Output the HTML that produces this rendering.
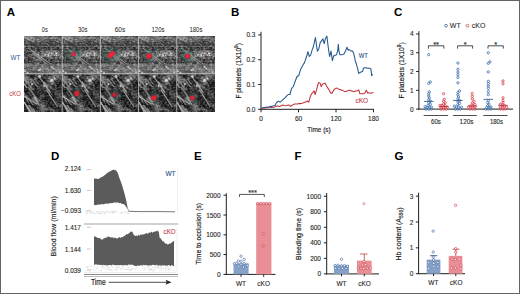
<!DOCTYPE html>
<html><head><meta charset="utf-8"><style>
html,body{margin:0;padding:0;background:#fff;}
body{width:520px;height:294px;overflow:hidden;}
svg{display:block;font-family:"Liberation Sans", sans-serif;}
</style></head><body>
<svg width="520" height="294" viewBox="0 0 520 294">
<defs><clipPath id="mclip"><rect x="24" y="36" width="191" height="76"/></clipPath>
<filter color-interpolation-filters="sRGB" id="noise0" x="0" y="0" width="100%" height="100%"><feTurbulence type="fractalNoise" baseFrequency="0.45 0.6" numOctaves="2" seed="3"/><feColorMatrix type="matrix" values="2.0 0 0 0 -0.6  2.0 0 0 0 -0.6  2.0 0 0 0 -0.6  0 0 0 0 1"/><feGaussianBlur stdDeviation="0.35"/></filter>
<filter color-interpolation-filters="sRGB" id="noise1" x="0" y="0" width="100%" height="100%"><feTurbulence type="fractalNoise" baseFrequency="0.45 0.6" numOctaves="2" seed="9"/><feColorMatrix type="matrix" values="2.0 0 0 0 -0.7  2.0 0 0 0 -0.7  2.0 0 0 0 -0.7  0 0 0 0 1"/><feGaussianBlur stdDeviation="0.35"/></filter>
<filter color-interpolation-filters="sRGB" id="lnoise0" x="0" y="0" width="100%" height="100%"><feTurbulence type="fractalNoise" baseFrequency="0.09 0.13" numOctaves="3" seed="5"/><feColorMatrix type="matrix" values="3.0 0 0 0 -1.15  3.0 0 0 0 -1.15  3.0 0 0 0 -1.15  0 0 0 0 1"/></filter><filter color-interpolation-filters="sRGB" id="lnoise1" x="0" y="0" width="100%" height="100%"><feTurbulence type="fractalNoise" baseFrequency="0.09 0.13" numOctaves="3" seed="12"/><feColorMatrix type="matrix" values="3.0 0 0 0 -1.3  3.0 0 0 0 -1.3  3.0 0 0 0 -1.3  0 0 0 0 1"/></filter><clipPath id="tclip"><rect x="0" y="0" width="38.2" height="38"/></clipPath><g id="tile0" clip-path="url(#tclip)"><rect x="0" y="0" width="38.2" height="38" fill="rgb(78,78,78)"/><rect x="0" y="0" width="38.2" height="38" filter="url(#lnoise0)" opacity="0.3"/><rect x="0" y="0" width="38.2" height="38" filter="url(#noise0)" opacity="0.35"/><g filter="url(#soft)"><rect x="0" y="29" width="38.2" height="9" fill="#b4b4b4" fill-opacity="0.28"/><line x1="0" y1="2.0" x2="38.2" y2="2.0" stroke="rgb(150,150,150)" stroke-width="1.0" stroke-opacity="0.55"/><line x1="0" y1="8.5" x2="38.2" y2="8.5" stroke="rgb(45,45,45)" stroke-width="1.5" stroke-opacity="0.55"/><line x1="0" y1="10.5" x2="38.2" y2="10.5" stroke="rgb(150,150,150)" stroke-width="0.7" stroke-opacity="0.55"/><line x1="0" y1="26.5" x2="38.2" y2="26.5" stroke="rgb(50,50,50)" stroke-width="1.2" stroke-opacity="0.55"/><line x1="0" y1="28.8" x2="38.2" y2="28.8" stroke="rgb(175,175,175)" stroke-width="0.8" stroke-opacity="0.55"/><line x1="0" y1="33.5" x2="38.2" y2="33.5" stroke="rgb(160,160,160)" stroke-width="0.7" stroke-opacity="0.55"/><line x1="0" y1="37.3" x2="38.2" y2="37.3" stroke="rgb(200,200,200)" stroke-width="1.0" stroke-opacity="0.55"/><line x1="4" y1="12" x2="27" y2="28.5" stroke="#d8d8d8" stroke-width="1.0" stroke-opacity="0.6"/><line x1="5" y1="13.6" x2="28" y2="30" stroke="#303030" stroke-width="1.0" stroke-opacity="0.5"/><line x1="21.7" y1="5.3" x2="36.6" y2="15.7" stroke="rgb(54,54,54)" stroke-width="1.0" stroke-opacity="0.5" stroke-linecap="round"/><line x1="23.4" y1="29.7" x2="30.6" y2="34.9" stroke="rgb(63,63,63)" stroke-width="1.0" stroke-opacity="0.5" stroke-linecap="round"/><line x1="27.8" y1="30.3" x2="35.8" y2="36.8" stroke="rgb(161,161,161)" stroke-width="1.3" stroke-opacity="0.5" stroke-linecap="round"/><line x1="-2.9" y1="1.2" x2="14.6" y2="11.2" stroke="rgb(43,43,43)" stroke-width="1.1" stroke-opacity="0.5" stroke-linecap="round"/><line x1="8.0" y1="-4.7" x2="25.1" y2="9.6" stroke="rgb(194,194,194)" stroke-width="1.0" stroke-opacity="0.5" stroke-linecap="round"/><line x1="13.6" y1="1.0" x2="21.7" y2="6.5" stroke="rgb(58,58,58)" stroke-width="1.5" stroke-opacity="0.5" stroke-linecap="round"/><line x1="-4.5" y1="-3.3" x2="9.9" y2="6.1" stroke="rgb(171,171,171)" stroke-width="1.5" stroke-opacity="0.5" stroke-linecap="round"/><line x1="10.0" y1="17.5" x2="21.8" y2="27.1" stroke="rgb(188,188,188)" stroke-width="1.5" stroke-opacity="0.5" stroke-linecap="round"/><line x1="-4.3" y1="36.5" x2="16.5" y2="36.3" stroke="rgb(53,53,53)" stroke-width="1.0" stroke-opacity="0.5" stroke-linecap="round"/><line x1="-3.2" y1="16.5" x2="7.4" y2="22.0" stroke="rgb(61,61,61)" stroke-width="1.1" stroke-opacity="0.5" stroke-linecap="round"/><line x1="16.4" y1="15.4" x2="32.5" y2="14.9" stroke="rgb(176,176,176)" stroke-width="0.9" stroke-opacity="0.5" stroke-linecap="round"/><circle cx="30.8" cy="19.4" r="0.7" fill="rgb(202,202,202)" fill-opacity="0.8"/><circle cx="24.3" cy="18.7" r="0.9" fill="rgb(201,201,201)" fill-opacity="0.8"/><circle cx="24.5" cy="19.7" r="0.9" fill="rgb(227,227,227)" fill-opacity="0.8"/><circle cx="27.0" cy="19.3" r="0.7" fill="rgb(239,239,239)" fill-opacity="0.8"/><circle cx="32.2" cy="17.6" r="1.1" fill="rgb(245,245,245)" fill-opacity="0.8"/><circle cx="32.6" cy="19.2" r="0.7" fill="rgb(237,237,237)" fill-opacity="0.8"/><circle cx="21.0" cy="19.0" r="1.1" fill="rgb(207,207,207)" fill-opacity="0.8"/><circle cx="24.3" cy="18.3" r="0.7" fill="rgb(201,201,201)" fill-opacity="0.8"/><circle cx="27.8" cy="17.6" r="1.0" fill="rgb(211,211,211)" fill-opacity="0.8"/><circle cx="29.2" cy="32.5" r="1.0" fill="rgb(212,212,212)" fill-opacity="0.7"/><circle cx="1.3" cy="35.6" r="0.8" fill="rgb(220,220,220)" fill-opacity="0.7"/><circle cx="3.6" cy="37.0" r="1.2" fill="rgb(220,220,220)" fill-opacity="0.7"/><circle cx="35.0" cy="33.6" r="0.9" fill="rgb(206,206,206)" fill-opacity="0.7"/><circle cx="14.9" cy="34.2" r="1.1" fill="rgb(240,240,240)" fill-opacity="0.7"/><circle cx="35.6" cy="36.2" r="0.9" fill="rgb(218,218,218)" fill-opacity="0.7"/><circle cx="16.5" cy="32.7" r="1.0" fill="rgb(202,202,202)" fill-opacity="0.7"/><circle cx="16.6" cy="34.1" r="0.7" fill="rgb(215,215,215)" fill-opacity="0.7"/><circle cx="0.4" cy="34.7" r="1.1" fill="rgb(227,227,227)" fill-opacity="0.7"/><circle cx="27.9" cy="30.9" r="0.9" fill="rgb(224,224,224)" fill-opacity="0.7"/></g></g><g id="tile1" clip-path="url(#tclip)"><rect x="0" y="0" width="38.2" height="38" fill="rgb(50,50,50)"/><rect x="0" y="0" width="38.2" height="38" filter="url(#lnoise1)" opacity="0.45"/><rect x="0" y="0" width="38.2" height="38" filter="url(#noise1)" opacity="0.3"/><g filter="url(#soft)"><line x1="22.6" y1="15.9" x2="33.2" y2="32.4" stroke="rgb(207,207,207)" stroke-width="1.3" stroke-opacity="0.6" stroke-linecap="round"/><line x1="0.6" y1="28.5" x2="5.7" y2="38.5" stroke="rgb(225,225,225)" stroke-width="1.4" stroke-opacity="0.6" stroke-linecap="round"/><line x1="8.9" y1="34.3" x2="12.9" y2="41.2" stroke="rgb(201,201,201)" stroke-width="1.1" stroke-opacity="0.6" stroke-linecap="round"/><line x1="3.4" y1="32.6" x2="9.2" y2="42.0" stroke="rgb(197,197,197)" stroke-width="1.5" stroke-opacity="0.6" stroke-linecap="round"/><line x1="10.9" y1="18.7" x2="18.8" y2="28.2" stroke="rgb(28,28,28)" stroke-width="1.0" stroke-opacity="0.6" stroke-linecap="round"/><line x1="9.7" y1="11.2" x2="13.1" y2="16.6" stroke="rgb(34,34,34)" stroke-width="1.0" stroke-opacity="0.6" stroke-linecap="round"/><line x1="10.5" y1="23.3" x2="14.5" y2="30.1" stroke="rgb(208,208,208)" stroke-width="1.7" stroke-opacity="0.6" stroke-linecap="round"/><line x1="19.9" y1="7.6" x2="23.4" y2="13.1" stroke="rgb(186,186,186)" stroke-width="1.1" stroke-opacity="0.6" stroke-linecap="round"/><line x1="-0.8" y1="3.1" x2="2.2" y2="8.9" stroke="rgb(179,179,179)" stroke-width="1.5" stroke-opacity="0.6" stroke-linecap="round"/><line x1="0.3" y1="12.9" x2="12.4" y2="18.9" stroke="rgb(34,34,34)" stroke-width="1.4" stroke-opacity="0.6" stroke-linecap="round"/><line x1="-2.0" y1="25.9" x2="10.2" y2="41.4" stroke="rgb(185,185,185)" stroke-width="1.2" stroke-opacity="0.6" stroke-linecap="round"/><line x1="3.4" y1="19.1" x2="11.1" y2="33.6" stroke="rgb(34,34,34)" stroke-width="1.6" stroke-opacity="0.6" stroke-linecap="round"/><line x1="2.8" y1="21.4" x2="8.9" y2="30.3" stroke="rgb(194,194,194)" stroke-width="1.7" stroke-opacity="0.6" stroke-linecap="round"/><line x1="-1.9" y1="7.5" x2="2.5" y2="13.0" stroke="rgb(214,214,214)" stroke-width="1.8" stroke-opacity="0.6" stroke-linecap="round"/><line x1="10.8" y1="5.2" x2="14.9" y2="10.3" stroke="rgb(170,170,170)" stroke-width="1.2" stroke-opacity="0.6" stroke-linecap="round"/><line x1="-3.2" y1="13.8" x2="4.5" y2="28.1" stroke="rgb(172,172,172)" stroke-width="1.2" stroke-opacity="0.6" stroke-linecap="round"/><line x1="15.6" y1="11.1" x2="23.9" y2="25.3" stroke="rgb(21,21,21)" stroke-width="1.9" stroke-opacity="0.6" stroke-linecap="round"/><line x1="0.5" y1="17.6" x2="9.5" y2="29.5" stroke="rgb(25,25,25)" stroke-width="1.6" stroke-opacity="0.6" stroke-linecap="round"/><line x1="21.6" y1="7.7" x2="29.9" y2="13.4" stroke="rgb(37,37,37)" stroke-width="1.7" stroke-opacity="0.6" stroke-linecap="round"/><line x1="9.0" y1="1.2" x2="26.4" y2="9.5" stroke="rgb(34,34,34)" stroke-width="1.2" stroke-opacity="0.6" stroke-linecap="round"/><line x1="4.6" y1="13.6" x2="12.6" y2="24.9" stroke="rgb(178,178,178)" stroke-width="1.8" stroke-opacity="0.6" stroke-linecap="round"/><line x1="-0.4" y1="22.0" x2="12.9" y2="30.1" stroke="rgb(223,223,223)" stroke-width="1.2" stroke-opacity="0.6" stroke-linecap="round"/><line x1="5.2" y1="31.7" x2="11.4" y2="41.3" stroke="rgb(183,183,183)" stroke-width="1.9" stroke-opacity="0.6" stroke-linecap="round"/><line x1="9.2" y1="6.8" x2="13.7" y2="12.8" stroke="rgb(171,171,171)" stroke-width="1.3" stroke-opacity="0.6" stroke-linecap="round"/><line x1="15.9" y1="3.8" x2="26.3" y2="18.5" stroke="rgb(211,211,211)" stroke-width="1.3" stroke-opacity="0.6" stroke-linecap="round"/><line x1="-0.6" y1="2.3" x2="8.0" y2="15.3" stroke="rgb(174,174,174)" stroke-width="1.7" stroke-opacity="0.6" stroke-linecap="round"/><circle cx="15.7" cy="2.6" r="1.4" fill="#e6e6e6" fill-opacity="0.8"/><circle cx="27.8" cy="6.3" r="1.6" fill="#e6e6e6" fill-opacity="0.8"/><circle cx="30.5" cy="4.5" r="1.0" fill="#e6e6e6" fill-opacity="0.8"/><circle cx="8" cy="10" r="1.0" fill="#e6e6e6" fill-opacity="0.8"/><circle cx="20" cy="12" r="0.9" fill="#e6e6e6" fill-opacity="0.8"/></g></g><filter color-interpolation-filters="sRGB" id="hblur" x="-50%" y="-50%" width="200%" height="200%"><feGaussianBlur stdDeviation="1.6"/></filter><filter color-interpolation-filters="sRGB" id="bblur" x="-50%" y="-50%" width="200%" height="200%"><feGaussianBlur stdDeviation="0.5"/></filter><filter color-interpolation-filters="sRGB" id="soft"><feGaussianBlur stdDeviation="0.55"/></filter>
<filter color-interpolation-filters="sRGB" id="blur1"><feGaussianBlur stdDeviation="0.8"/></filter>
</defs>
<rect x="0" y="0" width="520" height="294" fill="#fff"/>
<g clip-path="url(#mclip)">
<use href="#tile0" x="24.0" y="36"/>
<use href="#tile0" x="62.2" y="36"/>
<use href="#tile0" x="100.4" y="36"/>
<use href="#tile0" x="138.6" y="36"/>
<use href="#tile0" x="176.8" y="36"/>
<use href="#tile1" x="24.0" y="74"/>
<use href="#tile1" x="62.2" y="74"/>
<use href="#tile1" x="100.4" y="74"/>
<use href="#tile1" x="138.6" y="74"/>
<use href="#tile1" x="176.8" y="74"/>
<ellipse cx="73.5" cy="54.2" rx="8" ry="5.5" fill="#3a7868" fill-opacity="0.38" filter="url(#hblur)"/><ellipse cx="73.5" cy="54.2" rx="2.8" ry="2.4" transform="rotate(-30 73.5 54.2)" fill="#8a1c30" fill-opacity="0.8" filter="url(#bblur)"/><ellipse cx="73.5" cy="54.2" rx="2.4" ry="2.0" transform="rotate(-30 73.5 54.2)" fill="#d0304a" filter="url(#bblur)"/>
<ellipse cx="111.3" cy="54.5" rx="9" ry="6.5" fill="#3a7868" fill-opacity="0.38" filter="url(#hblur)"/><ellipse cx="111.3" cy="54.5" rx="4.6" ry="2.8" transform="rotate(-40 111.3 54.5)" fill="#8a1c30" fill-opacity="0.8" filter="url(#bblur)"/><ellipse cx="111.3" cy="54.5" rx="4.2" ry="2.4" transform="rotate(-40 111.3 54.5)" fill="#e42a3c" filter="url(#bblur)"/>
<ellipse cx="149" cy="56" rx="7" ry="6" fill="#3a7868" fill-opacity="0.38" filter="url(#hblur)"/><ellipse cx="149" cy="56" rx="3.3" ry="2.9" transform="rotate(-20 149 56)" fill="#8a1c30" fill-opacity="0.8" filter="url(#bblur)"/><ellipse cx="149" cy="56" rx="2.9" ry="2.5" transform="rotate(-20 149 56)" fill="#e0283a" filter="url(#bblur)"/>
<ellipse cx="187.6" cy="56" rx="6.5" ry="5.5" fill="#3a7868" fill-opacity="0.38" filter="url(#hblur)"/><ellipse cx="187.6" cy="56" rx="2.9" ry="2.6" transform="rotate(0 187.6 56)" fill="#8a1c30" fill-opacity="0.8" filter="url(#bblur)"/><ellipse cx="187.6" cy="56" rx="2.5" ry="2.2" transform="rotate(0 187.6 56)" fill="#d82a3a" filter="url(#bblur)"/>
<ellipse cx="76.8" cy="93.6" rx="4" ry="6" fill="#3a7868" fill-opacity="0.38" filter="url(#hblur)"/><ellipse cx="76.8" cy="93.6" rx="2.8" ry="3.3" transform="rotate(0 76.8 93.6)" fill="#8a1c30" fill-opacity="0.8" filter="url(#bblur)"/><ellipse cx="76.8" cy="93.6" rx="2.4" ry="2.9" transform="rotate(0 76.8 93.6)" fill="#d02838" filter="url(#bblur)"/>
<ellipse cx="114.3" cy="94.8" rx="5" ry="5" fill="#3a7868" fill-opacity="0.38" filter="url(#hblur)"/><ellipse cx="114.3" cy="94.8" rx="2.8" ry="2.4" transform="rotate(-20 114.3 94.8)" fill="#8a1c30" fill-opacity="0.8" filter="url(#bblur)"/><ellipse cx="114.3" cy="94.8" rx="2.4" ry="2.0" transform="rotate(-20 114.3 94.8)" fill="#c02232" filter="url(#bblur)"/>
<ellipse cx="153.8" cy="97.8" rx="5" ry="5" fill="#3a7868" fill-opacity="0.38" filter="url(#hblur)"/><ellipse cx="153.8" cy="97.8" rx="3.1" ry="2.7" transform="rotate(-20 153.8 97.8)" fill="#8a1c30" fill-opacity="0.8" filter="url(#bblur)"/><ellipse cx="153.8" cy="97.8" rx="2.7" ry="2.3" transform="rotate(-20 153.8 97.8)" fill="#e42232" filter="url(#bblur)"/>
<ellipse cx="192.3" cy="97.8" rx="5" ry="5" fill="#3a7868" fill-opacity="0.38" filter="url(#hblur)"/><ellipse cx="192.3" cy="97.8" rx="2.8" ry="2.6" transform="rotate(-20 192.3 97.8)" fill="#8a1c30" fill-opacity="0.8" filter="url(#bblur)"/><ellipse cx="192.3" cy="97.8" rx="2.4" ry="2.2" transform="rotate(-20 192.3 97.8)" fill="#d42a38" filter="url(#bblur)"/>
<line x1="62.2" y1="36" x2="62.2" y2="112" stroke="#cfcfcf" stroke-width="0.6"/>
<line x1="100.4" y1="36" x2="100.4" y2="112" stroke="#cfcfcf" stroke-width="0.6"/>
<line x1="138.6" y1="36" x2="138.6" y2="112" stroke="#cfcfcf" stroke-width="0.6"/>
<line x1="176.8" y1="36" x2="176.8" y2="112" stroke="#cfcfcf" stroke-width="0.6"/>
<line x1="24" y1="74" x2="215" y2="74" stroke="#cfcfcf" stroke-width="0.6"/>
</g>
<text x="6.8" y="16.2" font-size="11.5" text-anchor="start" fill="#000" font-weight="bold" >A</text>
<text x="231" y="16" font-size="11.5" text-anchor="start" fill="#000" font-weight="bold" >B</text>
<text x="394" y="16" font-size="11.5" text-anchor="start" fill="#000" font-weight="bold" >C</text>
<text x="51" y="160" font-size="11.5" text-anchor="start" fill="#000" font-weight="bold" >D</text>
<text x="194" y="160" font-size="11.5" text-anchor="start" fill="#000" font-weight="bold" >E</text>
<text x="294.5" y="160" font-size="11.5" text-anchor="start" fill="#000" font-weight="bold" >F</text>
<text x="394.5" y="160" font-size="11.5" text-anchor="start" fill="#000" font-weight="bold" >G</text>
<text x="44.8" y="31.9" font-size="7.3" text-anchor="middle" fill="#222" font-weight="normal" textLength="6.2" lengthAdjust="spacingAndGlyphs">0s</text>
<text x="82.7" y="31.9" font-size="7.3" text-anchor="middle" fill="#222" font-weight="normal" textLength="9.6" lengthAdjust="spacingAndGlyphs">30s</text>
<text x="120" y="31.9" font-size="7.3" text-anchor="middle" fill="#222" font-weight="normal" textLength="10.5" lengthAdjust="spacingAndGlyphs">60s</text>
<text x="158" y="31.9" font-size="7.3" text-anchor="middle" fill="#222" font-weight="normal" textLength="13.1" lengthAdjust="spacingAndGlyphs">120s</text>
<text x="195.9" y="31.9" font-size="7.3" text-anchor="middle" fill="#222" font-weight="normal" textLength="13.0" lengthAdjust="spacingAndGlyphs">180s</text>
<text x="15.5" y="60.4" font-size="7" text-anchor="middle" fill="#2f5588" font-weight="normal" textLength="9.8" lengthAdjust="spacingAndGlyphs">WT</text>
<text x="15.1" y="96.1" font-size="7" text-anchor="middle" fill="#c23a3a" font-weight="normal" textLength="11.8" lengthAdjust="spacingAndGlyphs">cKO</text>
<line x1="261" y1="31.8" x2="261" y2="109.75" stroke="#1e1e1e" stroke-width="1.0" />
<line x1="260.55" y1="109.3" x2="374" y2="109.3" stroke="#1e1e1e" stroke-width="1.0" />
<line x1="258.2" y1="109.3" x2="261" y2="109.3" stroke="#1e1e1e" stroke-width="1.0" />
<text x="255.5" y="109.3" font-size="6.5" text-anchor="end" dominant-baseline="central" fill="#2a2a2a" stroke="#2a2a2a" stroke-width="0.12" >0.0</text>
<line x1="258.2" y1="84.5" x2="261" y2="84.5" stroke="#1e1e1e" stroke-width="1.0" />
<text x="255.5" y="84.5" font-size="6.5" text-anchor="end" dominant-baseline="central" fill="#2a2a2a" stroke="#2a2a2a" stroke-width="0.12" >0.1</text>
<line x1="258.2" y1="59.699999999999996" x2="261" y2="59.699999999999996" stroke="#1e1e1e" stroke-width="1.0" />
<text x="255.5" y="59.699999999999996" font-size="6.5" text-anchor="end" dominant-baseline="central" fill="#2a2a2a" stroke="#2a2a2a" stroke-width="0.12" >0.2</text>
<line x1="258.2" y1="34.89999999999999" x2="261" y2="34.89999999999999" stroke="#1e1e1e" stroke-width="1.0" />
<text x="255.5" y="34.89999999999999" font-size="6.5" text-anchor="end" dominant-baseline="central" fill="#2a2a2a" stroke="#2a2a2a" stroke-width="0.12" >0.3</text>
<line x1="261.0" y1="109.3" x2="261.0" y2="112.3" stroke="#1e1e1e" stroke-width="1.0" />
<text x="261.0" y="118.5" font-size="6.5" text-anchor="middle" dominant-baseline="central" fill="#2a2a2a" stroke="#2a2a2a" stroke-width="0.12" >0</text>
<line x1="298.5" y1="109.3" x2="298.5" y2="112.3" stroke="#1e1e1e" stroke-width="1.0" />
<text x="298.5" y="118.5" font-size="6.5" text-anchor="middle" dominant-baseline="central" fill="#2a2a2a" stroke="#2a2a2a" stroke-width="0.12" >60</text>
<line x1="336.0" y1="109.3" x2="336.0" y2="112.3" stroke="#1e1e1e" stroke-width="1.0" />
<text x="336.0" y="118.5" font-size="6.5" text-anchor="middle" dominant-baseline="central" fill="#2a2a2a" stroke="#2a2a2a" stroke-width="0.12" >120</text>
<line x1="373.5" y1="109.3" x2="373.5" y2="112.3" stroke="#1e1e1e" stroke-width="1.0" />
<text x="373.5" y="118.5" font-size="6.5" text-anchor="middle" dominant-baseline="central" fill="#2a2a2a" stroke="#2a2a2a" stroke-width="0.12" >180</text>
<text x="319" y="129.2" font-size="8" text-anchor="middle" dominant-baseline="central" fill="#2a2a2a" stroke="#2a2a2a" stroke-width="0.2" textLength="23.3" lengthAdjust="spacingAndGlyphs">Time (s)</text>
<text x="0" y="0" transform="translate(238.2,70.8) rotate(-90)" font-size="7.4" text-anchor="middle" dominant-baseline="central" fill="#222" stroke="#222" stroke-width="0.18" textLength="55.6" lengthAdjust="spacingAndGlyphs">F platelets (1X10<tspan font-size="5.2" dy="-2.6">9</tspan><tspan dy="2.6">)</tspan></text>
<polyline points="261.50,108.10 262.51,108.10 263.53,108.09 264.54,108.04 265.56,108.05 266.57,107.79 267.59,107.84 268.60,107.40 269.63,106.94 270.67,107.21 271.70,107.50 272.73,107.19 273.77,107.30 274.80,106.90 276.15,106.14 277.50,106.00 278.80,106.18 280.10,106.40 281.45,105.55 282.80,105.10 284.10,105.44 285.40,105.70 286.75,105.46 288.10,105.10 289.40,105.36 290.70,106.40 292.05,105.27 293.40,104.60 294.70,104.07 296.00,103.90 297.35,103.98 298.70,103.40 300.05,103.61 301.40,103.40 303.00,103.00 304.05,102.38 305.10,102.30 306.20,101.84 307.30,100.90 308.70,102.30 310.10,97.30 311.50,93.80 313.00,92.40 314.10,90.90 315.10,94.50 316.50,90.20 317.90,84.50 318.90,82.40 320.10,83.10 321.20,86.70 322.20,84.50 323.60,83.80 325.00,83.10 326.50,86.00 327.90,88.10 329.30,90.20 330.70,93.10 332.20,93.10 333.60,90.20 335.00,88.80 336.05,88.16 337.10,88.10 338.20,88.89 339.30,89.50 340.35,89.55 341.40,90.20 342.45,90.15 343.50,90.90 344.60,91.55 345.70,91.60 346.75,91.02 347.80,90.90 348.85,90.32 349.90,90.20 351.00,90.94 352.10,90.90 353.15,91.45 354.20,91.40 355.25,90.98 356.30,90.90 357.55,90.82 358.80,90.00 359.90,93.80 361.30,93.83 362.70,93.80 363.80,93.59 364.90,93.10 366.30,90.20 367.70,93.10 368.80,92.86 369.90,93.10 370.95,93.30 372.00,92.80 373.40,92.40" fill="none" stroke="#c0323c" stroke-width="1.05" stroke-linejoin="round"/>
<polyline points="261.50,108.10 262.70,107.66 263.90,107.67 265.10,107.40 266.27,107.13 267.43,107.15 268.60,106.90 269.80,106.83 271.00,106.22 272.20,106.40 273.50,105.66 274.80,105.70 276.60,102.50 278.40,101.10 280.10,102.10 281.90,100.70 283.70,98.90 285.00,97.87 286.30,96.30 288.10,94.50 289.90,94.50 291.60,88.30 293.40,86.50 295.20,81.20 296.90,76.80 298.80,75.50 300.40,69.80 301.45,67.71 302.50,66.00 303.50,64.09 304.50,62.60 305.90,58.50 306.90,55.50 307.90,51.70 309.30,56.50 310.60,55.10 312.00,50.40 313.30,47.00 314.35,42.23 315.40,37.50 316.40,44.57 317.40,51.10 318.80,49.00 320.10,42.90 321.50,40.90 322.90,38.80 324.20,43.60 325.60,38.20 326.90,36.10 328.30,47.70 329.60,56.50 331.00,51.10 332.40,60.60 333.70,55.80 334.75,55.43 335.80,55.10 336.50,54.70 337.70,51.00 338.30,44.20 339.00,51.00 339.80,54.70 341.70,54.70 342.85,54.46 344.00,54.00 345.50,51.00 347.00,47.20 348.20,50.20 349.20,49.50 350.70,51.00 352.20,50.70 353.30,52.50 354.20,55.50 355.20,60.70 356.30,63.70 357.50,68.20 358.70,73.40 359.70,72.70 361.20,71.90 362.70,71.20 363.40,68.20 364.90,67.70 366.05,67.67 367.20,68.20 368.30,68.31 369.40,68.20 370.90,68.90 371.70,75.70 372.70,74.20" fill="none" stroke="#24578f" stroke-width="1.05" stroke-linejoin="round"/>
<text x="363.3" y="55.5" font-size="7.2" text-anchor="middle" dominant-baseline="central" fill="#2d5386" stroke="#2d5386" stroke-width="0.12" textLength="9.2" lengthAdjust="spacingAndGlyphs">WT</text>
<text x="361.8" y="100.7" font-size="7" text-anchor="middle" dominant-baseline="central" fill="#c23c4a" stroke="#c23c4a" stroke-width="0.12" textLength="12.6" lengthAdjust="spacingAndGlyphs">cKO</text>
<line x1="418.9" y1="31.2" x2="418.9" y2="109.55" stroke="#1e1e1e" stroke-width="1.0" />
<line x1="418.45" y1="109.1" x2="513" y2="109.1" stroke="#1e1e1e" stroke-width="1.0" />
<line x1="416.09999999999997" y1="109.1" x2="418.9" y2="109.1" stroke="#1e1e1e" stroke-width="1.0" />
<text x="413.5" y="109.1" font-size="6.5" text-anchor="end" dominant-baseline="central" fill="#2a2a2a" stroke="#2a2a2a" stroke-width="0.12" >0</text>
<line x1="416.09999999999997" y1="90.32" x2="418.9" y2="90.32" stroke="#1e1e1e" stroke-width="1.0" />
<text x="413.5" y="90.32" font-size="6.5" text-anchor="end" dominant-baseline="central" fill="#2a2a2a" stroke="#2a2a2a" stroke-width="0.12" >1</text>
<line x1="416.09999999999997" y1="71.53999999999999" x2="418.9" y2="71.53999999999999" stroke="#1e1e1e" stroke-width="1.0" />
<text x="413.5" y="71.53999999999999" font-size="6.5" text-anchor="end" dominant-baseline="central" fill="#2a2a2a" stroke="#2a2a2a" stroke-width="0.12" >2</text>
<line x1="416.09999999999997" y1="52.75999999999999" x2="418.9" y2="52.75999999999999" stroke="#1e1e1e" stroke-width="1.0" />
<text x="413.5" y="52.75999999999999" font-size="6.5" text-anchor="end" dominant-baseline="central" fill="#2a2a2a" stroke="#2a2a2a" stroke-width="0.12" >3</text>
<line x1="416.09999999999997" y1="33.97999999999999" x2="418.9" y2="33.97999999999999" stroke="#1e1e1e" stroke-width="1.0" />
<text x="413.5" y="33.97999999999999" font-size="6.5" text-anchor="end" dominant-baseline="central" fill="#2a2a2a" stroke="#2a2a2a" stroke-width="0.12" >4</text>
<text x="0" y="0" transform="translate(401.2,70.4) rotate(-90)" font-size="7.6" text-anchor="middle" dominant-baseline="central" fill="#222" stroke="#222" stroke-width="0.18" textLength="56.4" lengthAdjust="spacingAndGlyphs">F platelets (1X10<tspan font-size="5.4" dy="-2.7">9</tspan><tspan dy="2.7">)</tspan></text>
<circle cx="446" cy="25.7" r="1.4" fill="none" stroke="#2d5386" stroke-width="0.7"/>
<text x="449.8" y="25.5" font-size="7" text-anchor="start" dominant-baseline="central" fill="#333" stroke="#333" stroke-width="0.12" >WT</text>
<circle cx="467.5" cy="25.7" r="1.4" fill="none" stroke="#c23c4a" stroke-width="0.7"/>
<text x="471.8" y="25.5" font-size="7" text-anchor="start" dominant-baseline="central" fill="#333" stroke="#333" stroke-width="0.12" >cKO</text>
<line x1="423.7" y1="115.5" x2="448.1" y2="115.5" stroke="#1e1e1e" stroke-width="0.8" />
<text x="436" y="121.5" font-size="6.8" text-anchor="middle" dominant-baseline="central" fill="#2a2a2a" stroke="#2a2a2a" stroke-width="0.12" textLength="9.9" lengthAdjust="spacingAndGlyphs">60s</text>
<polyline points="428.4,48.6 428.4,45.8 443.90000000000003,45.8 443.90000000000003,48.6" fill="none" stroke="#1e1e1e" stroke-width="0.8"/>
<line x1="452.9" y1="115.5" x2="476.8" y2="115.5" stroke="#1e1e1e" stroke-width="0.8" />
<text x="466.5" y="121.5" font-size="6.8" text-anchor="middle" dominant-baseline="central" fill="#2a2a2a" stroke="#2a2a2a" stroke-width="0.12" textLength="13.8" lengthAdjust="spacingAndGlyphs">120s</text>
<polyline points="457.59999999999997,48.6 457.59999999999997,45.8 472.6,45.8 472.6,48.6" fill="none" stroke="#1e1e1e" stroke-width="0.8"/>
<line x1="483.3" y1="115.5" x2="507.5" y2="115.5" stroke="#1e1e1e" stroke-width="0.8" />
<text x="496.4" y="121.5" font-size="6.8" text-anchor="middle" dominant-baseline="central" fill="#2a2a2a" stroke="#2a2a2a" stroke-width="0.12" textLength="13" lengthAdjust="spacingAndGlyphs">180s</text>
<polyline points="488.0,48.6 488.0,45.8 503.3,45.8 503.3,48.6" fill="none" stroke="#1e1e1e" stroke-width="0.8"/>
<text x="436.1" y="44.4" font-size="7.5" text-anchor="middle" dominant-baseline="central" fill="#2a2a2a" stroke="#2a2a2a" stroke-width="0.12" >**</text>
<text x="465.1" y="44.4" font-size="7.5" text-anchor="middle" dominant-baseline="central" fill="#2a2a2a" stroke="#2a2a2a" stroke-width="0.12" >*</text>
<text x="495.7" y="44.4" font-size="7.5" text-anchor="middle" dominant-baseline="central" fill="#2a2a2a" stroke="#2a2a2a" stroke-width="0.12" >*</text>
<circle cx="428.70" cy="109.10" r="1.15" fill="#fff" fill-opacity="0.5" stroke="#2f64a6" stroke-width="0.75"/><circle cx="431.30" cy="109.10" r="1.15" fill="#fff" fill-opacity="0.5" stroke="#2f64a6" stroke-width="0.75"/><circle cx="426.10" cy="109.10" r="1.15" fill="#fff" fill-opacity="0.5" stroke="#2f64a6" stroke-width="0.75"/><circle cx="429.30" cy="107.22" r="1.15" fill="#fff" fill-opacity="0.5" stroke="#2f64a6" stroke-width="0.75"/><circle cx="427.10" cy="107.35" r="1.15" fill="#fff" fill-opacity="0.5" stroke="#2f64a6" stroke-width="0.75"/><circle cx="431.30" cy="107.10" r="1.15" fill="#fff" fill-opacity="0.5" stroke="#2f64a6" stroke-width="0.75"/><circle cx="425.10" cy="106.66" r="1.15" fill="#fff" fill-opacity="0.5" stroke="#2f64a6" stroke-width="0.75"/><circle cx="428.10" cy="105.53" r="1.15" fill="#fff" fill-opacity="0.5" stroke="#2f64a6" stroke-width="0.75"/><circle cx="430.30" cy="104.22" r="1.15" fill="#fff" fill-opacity="0.5" stroke="#2f64a6" stroke-width="0.75"/><circle cx="428.70" cy="102.71" r="1.15" fill="#fff" fill-opacity="0.5" stroke="#2f64a6" stroke-width="0.75"/><circle cx="430.30" cy="101.21" r="1.15" fill="#fff" fill-opacity="0.5" stroke="#2f64a6" stroke-width="0.75"/><circle cx="428.70" cy="99.71" r="1.15" fill="#fff" fill-opacity="0.5" stroke="#2f64a6" stroke-width="0.75"/><circle cx="429.30" cy="97.83" r="1.15" fill="#fff" fill-opacity="0.5" stroke="#2f64a6" stroke-width="0.75"/><circle cx="428.70" cy="95.95" r="1.15" fill="#fff" fill-opacity="0.5" stroke="#2f64a6" stroke-width="0.75"/><circle cx="428.70" cy="93.70" r="1.15" fill="#fff" fill-opacity="0.5" stroke="#2f64a6" stroke-width="0.75"/><circle cx="429.30" cy="91.82" r="1.15" fill="#fff" fill-opacity="0.5" stroke="#2f64a6" stroke-width="0.75"/><circle cx="428.70" cy="83.37" r="1.15" fill="#fff" fill-opacity="0.5" stroke="#2f64a6" stroke-width="0.75"/><circle cx="430.30" cy="81.87" r="1.15" fill="#fff" fill-opacity="0.5" stroke="#2f64a6" stroke-width="0.75"/><circle cx="428.70" cy="54.64" r="1.15" fill="#fff" fill-opacity="0.5" stroke="#2f64a6" stroke-width="0.75"/>
<circle cx="443.60" cy="109.10" r="1.15" fill="#fff" fill-opacity="0.5" stroke="#d5303e" stroke-width="0.75"/><circle cx="446.20" cy="109.10" r="1.15" fill="#fff" fill-opacity="0.5" stroke="#d5303e" stroke-width="0.75"/><circle cx="441.00" cy="109.10" r="1.15" fill="#fff" fill-opacity="0.5" stroke="#d5303e" stroke-width="0.75"/><circle cx="443.60" cy="107.10" r="1.15" fill="#fff" fill-opacity="0.5" stroke="#d5303e" stroke-width="0.75"/><circle cx="447.20" cy="107.22" r="1.15" fill="#fff" fill-opacity="0.5" stroke="#d5303e" stroke-width="0.75"/><circle cx="441.00" cy="107.16" r="1.15" fill="#fff" fill-opacity="0.5" stroke="#d5303e" stroke-width="0.75"/><circle cx="445.20" cy="105.91" r="1.15" fill="#fff" fill-opacity="0.5" stroke="#d5303e" stroke-width="0.75"/><circle cx="442.00" cy="105.47" r="1.15" fill="#fff" fill-opacity="0.5" stroke="#d5303e" stroke-width="0.75"/><circle cx="440.00" cy="105.34" r="1.15" fill="#fff" fill-opacity="0.5" stroke="#d5303e" stroke-width="0.75"/><circle cx="443.60" cy="104.03" r="1.15" fill="#fff" fill-opacity="0.5" stroke="#d5303e" stroke-width="0.75"/><circle cx="445.20" cy="102.71" r="1.15" fill="#fff" fill-opacity="0.5" stroke="#d5303e" stroke-width="0.75"/><circle cx="443.60" cy="101.21" r="1.15" fill="#fff" fill-opacity="0.5" stroke="#d5303e" stroke-width="0.75"/><circle cx="444.20" cy="99.33" r="1.15" fill="#fff" fill-opacity="0.5" stroke="#d5303e" stroke-width="0.75"/><circle cx="443.60" cy="93.70" r="1.15" fill="#fff" fill-opacity="0.5" stroke="#d5303e" stroke-width="0.75"/>
<line x1="423.9" y1="101.4002" x2="433.5" y2="101.4002" stroke="#1f4f88" stroke-width="0.8" />
<line x1="438.8" y1="106.4708" x2="448.40000000000003" y2="106.4708" stroke="#b02a36" stroke-width="0.8" />
<circle cx="457.90" cy="109.10" r="1.15" fill="#fff" fill-opacity="0.5" stroke="#2f64a6" stroke-width="0.75"/><circle cx="460.50" cy="109.10" r="1.15" fill="#fff" fill-opacity="0.5" stroke="#2f64a6" stroke-width="0.75"/><circle cx="455.30" cy="109.10" r="1.15" fill="#fff" fill-opacity="0.5" stroke="#2f64a6" stroke-width="0.75"/><circle cx="458.50" cy="107.22" r="1.15" fill="#fff" fill-opacity="0.5" stroke="#2f64a6" stroke-width="0.75"/><circle cx="456.30" cy="107.16" r="1.15" fill="#fff" fill-opacity="0.5" stroke="#2f64a6" stroke-width="0.75"/><circle cx="461.50" cy="107.22" r="1.15" fill="#fff" fill-opacity="0.5" stroke="#2f64a6" stroke-width="0.75"/><circle cx="454.30" cy="106.10" r="1.15" fill="#fff" fill-opacity="0.5" stroke="#2f64a6" stroke-width="0.75"/><circle cx="457.90" cy="104.78" r="1.15" fill="#fff" fill-opacity="0.5" stroke="#2f64a6" stroke-width="0.75"/><circle cx="459.50" cy="103.47" r="1.15" fill="#fff" fill-opacity="0.5" stroke="#2f64a6" stroke-width="0.75"/><circle cx="457.90" cy="101.96" r="1.15" fill="#fff" fill-opacity="0.5" stroke="#2f64a6" stroke-width="0.75"/><circle cx="459.50" cy="100.46" r="1.15" fill="#fff" fill-opacity="0.5" stroke="#2f64a6" stroke-width="0.75"/><circle cx="457.90" cy="98.77" r="1.15" fill="#fff" fill-opacity="0.5" stroke="#2f64a6" stroke-width="0.75"/><circle cx="458.50" cy="96.89" r="1.15" fill="#fff" fill-opacity="0.5" stroke="#2f64a6" stroke-width="0.75"/><circle cx="457.90" cy="94.83" r="1.15" fill="#fff" fill-opacity="0.5" stroke="#2f64a6" stroke-width="0.75"/><circle cx="457.90" cy="92.57" r="1.15" fill="#fff" fill-opacity="0.5" stroke="#2f64a6" stroke-width="0.75"/><circle cx="459.50" cy="90.88" r="1.15" fill="#fff" fill-opacity="0.5" stroke="#2f64a6" stroke-width="0.75"/><circle cx="457.90" cy="82.81" r="1.15" fill="#fff" fill-opacity="0.5" stroke="#2f64a6" stroke-width="0.75"/><circle cx="457.90" cy="77.55" r="1.15" fill="#fff" fill-opacity="0.5" stroke="#2f64a6" stroke-width="0.75"/><circle cx="457.90" cy="74.73" r="1.15" fill="#fff" fill-opacity="0.5" stroke="#2f64a6" stroke-width="0.75"/><circle cx="457.90" cy="72.10" r="1.15" fill="#fff" fill-opacity="0.5" stroke="#2f64a6" stroke-width="0.75"/><circle cx="457.90" cy="69.29" r="1.15" fill="#fff" fill-opacity="0.5" stroke="#2f64a6" stroke-width="0.75"/><circle cx="457.90" cy="63.09" r="1.15" fill="#fff" fill-opacity="0.5" stroke="#2f64a6" stroke-width="0.75"/>
<circle cx="472.30" cy="109.10" r="1.15" fill="#fff" fill-opacity="0.5" stroke="#d5303e" stroke-width="0.75"/><circle cx="474.90" cy="109.10" r="1.15" fill="#fff" fill-opacity="0.5" stroke="#d5303e" stroke-width="0.75"/><circle cx="469.70" cy="109.10" r="1.15" fill="#fff" fill-opacity="0.5" stroke="#d5303e" stroke-width="0.75"/><circle cx="472.30" cy="107.10" r="1.15" fill="#fff" fill-opacity="0.5" stroke="#d5303e" stroke-width="0.75"/><circle cx="474.90" cy="107.04" r="1.15" fill="#fff" fill-opacity="0.5" stroke="#d5303e" stroke-width="0.75"/><circle cx="468.70" cy="107.29" r="1.15" fill="#fff" fill-opacity="0.5" stroke="#d5303e" stroke-width="0.75"/><circle cx="470.70" cy="105.85" r="1.15" fill="#fff" fill-opacity="0.5" stroke="#d5303e" stroke-width="0.75"/><circle cx="472.90" cy="105.22" r="1.15" fill="#fff" fill-opacity="0.5" stroke="#d5303e" stroke-width="0.75"/><circle cx="474.90" cy="104.41" r="1.15" fill="#fff" fill-opacity="0.5" stroke="#d5303e" stroke-width="0.75"/><circle cx="472.30" cy="102.90" r="1.15" fill="#fff" fill-opacity="0.5" stroke="#d5303e" stroke-width="0.75"/><circle cx="473.90" cy="101.21" r="1.15" fill="#fff" fill-opacity="0.5" stroke="#d5303e" stroke-width="0.75"/><circle cx="472.30" cy="98.77" r="1.15" fill="#fff" fill-opacity="0.5" stroke="#d5303e" stroke-width="0.75"/><circle cx="472.30" cy="96.33" r="1.15" fill="#fff" fill-opacity="0.5" stroke="#d5303e" stroke-width="0.75"/><circle cx="472.30" cy="93.51" r="1.15" fill="#fff" fill-opacity="0.5" stroke="#d5303e" stroke-width="0.75"/>
<line x1="453.09999999999997" y1="100.46119999999999" x2="462.7" y2="100.46119999999999" stroke="#1f4f88" stroke-width="0.8" />
<line x1="467.5" y1="105.9074" x2="477.1" y2="105.9074" stroke="#b02a36" stroke-width="0.8" />
<circle cx="488.30" cy="109.10" r="1.15" fill="#fff" fill-opacity="0.5" stroke="#2f64a6" stroke-width="0.75"/><circle cx="490.90" cy="109.10" r="1.15" fill="#fff" fill-opacity="0.5" stroke="#2f64a6" stroke-width="0.75"/><circle cx="485.70" cy="109.10" r="1.15" fill="#fff" fill-opacity="0.5" stroke="#2f64a6" stroke-width="0.75"/><circle cx="488.90" cy="107.22" r="1.15" fill="#fff" fill-opacity="0.5" stroke="#2f64a6" stroke-width="0.75"/><circle cx="486.70" cy="107.47" r="1.15" fill="#fff" fill-opacity="0.5" stroke="#2f64a6" stroke-width="0.75"/><circle cx="490.90" cy="107.03" r="1.15" fill="#fff" fill-opacity="0.5" stroke="#2f64a6" stroke-width="0.75"/><circle cx="487.70" cy="105.72" r="1.15" fill="#fff" fill-opacity="0.5" stroke="#2f64a6" stroke-width="0.75"/><circle cx="488.90" cy="104.22" r="1.15" fill="#fff" fill-opacity="0.5" stroke="#2f64a6" stroke-width="0.75"/><circle cx="487.70" cy="102.53" r="1.15" fill="#fff" fill-opacity="0.5" stroke="#2f64a6" stroke-width="0.75"/><circle cx="488.30" cy="100.65" r="1.15" fill="#fff" fill-opacity="0.5" stroke="#2f64a6" stroke-width="0.75"/><circle cx="488.30" cy="94.64" r="1.15" fill="#fff" fill-opacity="0.5" stroke="#2f64a6" stroke-width="0.75"/><circle cx="488.30" cy="91.63" r="1.15" fill="#fff" fill-opacity="0.5" stroke="#2f64a6" stroke-width="0.75"/><circle cx="488.30" cy="88.44" r="1.15" fill="#fff" fill-opacity="0.5" stroke="#2f64a6" stroke-width="0.75"/><circle cx="488.30" cy="86.00" r="1.15" fill="#fff" fill-opacity="0.5" stroke="#2f64a6" stroke-width="0.75"/><circle cx="488.30" cy="83.56" r="1.15" fill="#fff" fill-opacity="0.5" stroke="#2f64a6" stroke-width="0.75"/><circle cx="488.30" cy="81.31" r="1.15" fill="#fff" fill-opacity="0.5" stroke="#2f64a6" stroke-width="0.75"/><circle cx="488.30" cy="71.92" r="1.15" fill="#fff" fill-opacity="0.5" stroke="#2f64a6" stroke-width="0.75"/><circle cx="488.30" cy="63.28" r="1.15" fill="#fff" fill-opacity="0.5" stroke="#2f64a6" stroke-width="0.75"/><circle cx="489.90" cy="61.77" r="1.15" fill="#fff" fill-opacity="0.5" stroke="#2f64a6" stroke-width="0.75"/><circle cx="488.30" cy="52.76" r="1.15" fill="#fff" fill-opacity="0.5" stroke="#2f64a6" stroke-width="0.75"/>
<circle cx="503.00" cy="109.10" r="1.15" fill="#fff" fill-opacity="0.5" stroke="#d5303e" stroke-width="0.75"/><circle cx="505.60" cy="109.10" r="1.15" fill="#fff" fill-opacity="0.5" stroke="#d5303e" stroke-width="0.75"/><circle cx="500.40" cy="109.10" r="1.15" fill="#fff" fill-opacity="0.5" stroke="#d5303e" stroke-width="0.75"/><circle cx="503.00" cy="107.10" r="1.15" fill="#fff" fill-opacity="0.5" stroke="#d5303e" stroke-width="0.75"/><circle cx="506.60" cy="107.35" r="1.15" fill="#fff" fill-opacity="0.5" stroke="#d5303e" stroke-width="0.75"/><circle cx="500.40" cy="107.10" r="1.15" fill="#fff" fill-opacity="0.5" stroke="#d5303e" stroke-width="0.75"/><circle cx="504.60" cy="105.66" r="1.15" fill="#fff" fill-opacity="0.5" stroke="#d5303e" stroke-width="0.75"/><circle cx="502.40" cy="105.03" r="1.15" fill="#fff" fill-opacity="0.5" stroke="#d5303e" stroke-width="0.75"/><circle cx="500.40" cy="104.22" r="1.15" fill="#fff" fill-opacity="0.5" stroke="#d5303e" stroke-width="0.75"/><circle cx="503.00" cy="102.71" r="1.15" fill="#fff" fill-opacity="0.5" stroke="#d5303e" stroke-width="0.75"/><circle cx="503.00" cy="100.65" r="1.15" fill="#fff" fill-opacity="0.5" stroke="#d5303e" stroke-width="0.75"/><circle cx="503.00" cy="97.83" r="1.15" fill="#fff" fill-opacity="0.5" stroke="#d5303e" stroke-width="0.75"/><circle cx="503.00" cy="83.75" r="1.15" fill="#fff" fill-opacity="0.5" stroke="#d5303e" stroke-width="0.75"/><circle cx="503.00" cy="80.93" r="1.15" fill="#fff" fill-opacity="0.5" stroke="#d5303e" stroke-width="0.75"/>
<line x1="483.5" y1="99.33439999999999" x2="493.1" y2="99.33439999999999" stroke="#1f4f88" stroke-width="0.8" />
<line x1="498.2" y1="105.344" x2="507.8" y2="105.344" stroke="#b02a36" stroke-width="0.8" />
<line x1="177.5" y1="169" x2="177.5" y2="214" stroke="#ebebeb" stroke-width="0.7" />
<line x1="177" y1="227.5" x2="177" y2="273" stroke="#ebebeb" stroke-width="0.7" />
<line x1="84" y1="224" x2="178" y2="224" stroke="#8a8a8a" stroke-width="0.8" />
<line x1="84" y1="274.5" x2="178" y2="274.5" stroke="#7a7a7a" stroke-width="0.9" />
<line x1="84" y1="276.5" x2="178" y2="276.5" stroke="#a0a0a0" stroke-width="0.7" />
<polygon points="94.00,178.30 95.00,178.70 96.00,178.60 97.05,178.97 98.10,178.80 99.05,178.64 100.00,178.00 101.10,177.20 102.20,176.90 103.13,176.32 104.07,175.59 105.00,175.00 105.87,174.28 106.73,173.31 107.60,172.80 108.65,171.97 109.70,171.50 110.60,170.92 111.50,170.40 113.10,169.80 114.05,169.78 115.00,170.10 116.50,170.80 118.00,173.50 119.20,177.60 120.25,180.27 121.30,183.00 122.15,185.46 123.00,188.50 124.50,193.50 125.80,198.80 126.80,203.50 127.70,208.00 129.00,210.80 129.00,211.30 128.00,209.82 127.00,208.00 126.00,206.87 125.00,205.20 124.00,204.35 123.00,204.00 122.15,204.10 121.30,203.40 120.37,202.96 119.43,203.14 118.50,202.80 117.57,202.34 116.63,202.74 115.70,202.40 114.78,202.25 113.85,202.82 112.92,202.95 112.00,202.90 111.10,203.24 110.20,203.10 109.30,203.57 108.40,203.40 107.43,203.92 106.45,203.34 105.47,203.79 104.50,203.90 103.62,204.37 102.75,204.29 101.88,204.16 101.00,204.30 100.12,204.27 99.25,204.91 98.38,204.34 97.50,204.80 96.62,205.11 95.75,205.27 94.88,204.83 94.00,205.20" fill="#5b5b5b"/>
<polyline points="128,211.3 140,211.6 160,211.6 175,211.8" fill="none" stroke="#666" stroke-width="0.9"/>
<rect x="104.5" y="212.3" width="1.5" height="0.8" fill="rgb(234,234,234)"/>
<rect x="110.3" y="211.3" width="1.5" height="0.8" fill="rgb(226,226,226)"/>
<rect x="93.0" y="212.0" width="0.9" height="0.9" fill="rgb(214,214,214)"/>
<rect x="114.8" y="210.9" width="2.2" height="0.8" fill="rgb(222,222,222)"/>
<rect x="111.5" y="211.2" width="2.0" height="0.5" fill="rgb(210,210,210)"/>
<rect x="86.5" y="213.1" width="0.8" height="0.7" fill="rgb(229,229,229)"/>
<rect x="103.9" y="213.0" width="1.1" height="0.6" fill="rgb(226,226,226)"/>
<rect x="85.2" y="211.0" width="1.2" height="1.0" fill="rgb(230,230,230)"/>
<rect x="127.8" y="213.0" width="1.2" height="0.9" fill="rgb(232,232,232)"/>
<rect x="107.1" y="210.9" width="1.9" height="0.7" fill="rgb(228,228,228)"/>
<rect x="121.4" y="211.8" width="2.0" height="0.5" fill="rgb(210,210,210)"/>
<rect x="94.0" y="213.2" width="1.3" height="0.9" fill="rgb(225,225,225)"/>
<rect x="103.1" y="212.3" width="1.9" height="0.6" fill="rgb(216,216,216)"/>
<rect x="88.7" y="211.7" width="1.9" height="0.6" fill="rgb(223,223,223)"/>
<rect x="95.6" y="211.1" width="1.5" height="0.7" fill="rgb(211,211,211)"/>
<rect x="114.3" y="211.3" width="1.1" height="0.9" fill="rgb(226,226,226)"/>
<rect x="90.6" y="212.5" width="1.4" height="1.0" fill="rgb(213,213,213)"/>
<rect x="85.0" y="213.0" width="1.6" height="1.0" fill="rgb(235,235,235)"/>
<rect x="85.8" y="211.3" width="1.6" height="0.8" fill="rgb(237,237,237)"/>
<rect x="86.8" y="211.2" width="1.2" height="0.9" fill="rgb(224,224,224)"/>
<rect x="99.1" y="211.6" width="0.9" height="0.6" fill="rgb(212,212,212)"/>
<rect x="112.4" y="210.8" width="1.3" height="0.7" fill="rgb(221,221,221)"/>
<rect x="126.2" y="212.1" width="1.0" height="0.7" fill="rgb(228,228,228)"/>
<rect x="112.0" y="211.6" width="1.9" height="0.6" fill="rgb(217,217,217)"/>
<rect x="93.2" y="212.7" width="1.1" height="1.0" fill="rgb(227,227,227)"/>
<rect x="122.9" y="212.4" width="0.9" height="0.6" fill="rgb(223,223,223)"/>
<rect x="107.0" y="211.5" width="1.8" height="0.6" fill="rgb(233,233,233)"/>
<rect x="120.4" y="212.4" width="1.5" height="1.0" fill="rgb(219,219,219)"/>
<rect x="127.0" y="211.1" width="1.6" height="0.9" fill="rgb(225,225,225)"/>
<rect x="111.4" y="211.5" width="1.8" height="0.5" fill="rgb(216,216,216)"/>
<rect x="102.7" y="211.4" width="1.0" height="0.7" fill="rgb(211,211,211)"/>
<rect x="109.6" y="211.1" width="1.0" height="0.7" fill="rgb(221,221,221)"/>
<rect x="99.2" y="212.7" width="1.6" height="0.6" fill="rgb(226,226,226)"/>
<rect x="86.5" y="210.8" width="1.8" height="1.0" fill="rgb(221,221,221)"/>
<rect x="85.9" y="212.5" width="0.9" height="0.7" fill="rgb(225,225,225)"/>
<rect x="90.9" y="211.0" width="1.6" height="0.9" fill="rgb(224,224,224)"/>
<rect x="123.7" y="212.7" width="1.0" height="1.0" fill="rgb(232,232,232)"/>
<rect x="99.7" y="211.0" width="2.1" height="0.9" fill="rgb(225,225,225)"/>
<rect x="102.9" y="212.9" width="1.5" height="0.5" fill="rgb(237,237,237)"/>
<rect x="113.5" y="211.8" width="1.7" height="0.5" fill="rgb(210,210,210)"/>
<rect x="112.5" y="213.4" width="1.4" height="0.7" fill="rgb(238,238,238)"/>
<rect x="125.2" y="212.6" width="1.4" height="0.9" fill="rgb(224,224,224)"/>
<rect x="88.6" y="212.8" width="1.2" height="0.5" fill="rgb(210,210,210)"/>
<rect x="86.0" y="213.3" width="1.5" height="0.8" fill="rgb(213,213,213)"/>
<rect x="124.6" y="211.5" width="1.3" height="0.6" fill="rgb(210,210,210)"/>
<rect x="111.3" y="212.1" width="2.1" height="0.8" fill="rgb(234,234,234)"/>
<rect x="104.0" y="213.1" width="1.4" height="0.6" fill="rgb(220,220,220)"/>
<rect x="112.3" y="212.9" width="2.1" height="0.9" fill="rgb(234,234,234)"/>
<rect x="101.5" y="212.3" width="1.1" height="0.6" fill="rgb(220,220,220)"/>
<rect x="100.1" y="213.1" width="1.8" height="1.0" fill="rgb(211,211,211)"/>
<rect x="96.9" y="211.2" width="1.5" height="1.0" fill="rgb(224,224,224)"/>
<rect x="120.7" y="211.8" width="1.5" height="0.7" fill="rgb(226,226,226)"/>
<rect x="121.1" y="213.4" width="1.2" height="0.9" fill="rgb(224,224,224)"/>
<rect x="97.0" y="212.4" width="1.8" height="0.8" fill="rgb(231,231,231)"/>
<rect x="98.3" y="212.9" width="1.7" height="0.7" fill="rgb(210,210,210)"/>
<rect x="93.2" y="212.8" width="1.1" height="0.6" fill="rgb(218,218,218)"/>
<rect x="87.0" y="212.4" width="1.0" height="0.8" fill="rgb(224,224,224)"/>
<rect x="112.5" y="211.8" width="1.8" height="0.6" fill="rgb(212,212,212)"/>
<rect x="105.4" y="211.3" width="1.9" height="0.8" fill="rgb(210,210,210)"/>
<rect x="86.6" y="211.4" width="1.3" height="0.8" fill="rgb(234,234,234)"/>
<rect x="107.4" y="212.4" width="1.0" height="0.9" fill="rgb(234,234,234)"/>
<rect x="115.1" y="211.4" width="2.1" height="0.9" fill="rgb(223,223,223)"/>
<rect x="90.6" y="212.0" width="2.0" height="0.5" fill="rgb(230,230,230)"/>
<rect x="108.7" y="212.5" width="1.9" height="1.0" fill="rgb(226,226,226)"/>
<rect x="104.9" y="212.5" width="0.9" height="0.9" fill="rgb(216,216,216)"/>
<rect x="119.3" y="213.2" width="1.1" height="0.9" fill="rgb(213,213,213)"/>
<rect x="127.2" y="213.3" width="2.2" height="1.0" fill="rgb(227,227,227)"/>
<rect x="96.3" y="212.7" width="1.3" height="0.5" fill="rgb(210,210,210)"/>
<rect x="104.0" y="212.2" width="1.2" height="1.0" fill="rgb(234,234,234)"/>
<rect x="94.4" y="213.1" width="1.9" height="0.6" fill="rgb(223,223,223)"/>
<line x1="86.8" y1="169.6" x2="91" y2="169.6" stroke="#cccccc" stroke-width="1.0" />
<line x1="86.8" y1="190.5" x2="91" y2="190.5" stroke="#cccccc" stroke-width="1.0" />
<line x1="86.8" y1="210.7" x2="91" y2="210.7" stroke="#cccccc" stroke-width="1.0" />
<text x="81" y="168.8" font-size="6.5" text-anchor="end" dominant-baseline="central" fill="#2a2a2a" stroke="#2a2a2a" stroke-width="0.12" >2.124</text>
<text x="81" y="190.2" font-size="6.5" text-anchor="end" dominant-baseline="central" fill="#2a2a2a" stroke="#2a2a2a" stroke-width="0.12" >1.630</text>
<text x="81" y="210.7" font-size="6.5" text-anchor="end" dominant-baseline="central" fill="#2a2a2a" stroke="#2a2a2a" stroke-width="0.12" textLength="20" lengthAdjust="spacingAndGlyphs">−0.093</text>
<text x="175.5" y="173.2" font-size="6.5" text-anchor="end" dominant-baseline="central" fill="#2d5386" stroke="#2d5386" stroke-width="0.12" >WT</text>
<polygon points="94.00,237.00 94.75,236.15 95.50,236.50 96.35,237.34 97.20,237.50 97.97,238.01 98.73,238.00 99.50,238.30 100.33,238.16 101.17,239.56 102.00,239.40 102.75,239.50 103.50,238.50 104.35,238.17 105.20,237.80 106.10,237.61 107.00,237.40 107.73,236.79 108.47,236.24 109.20,237.00 109.97,236.97 110.73,237.55 111.50,237.60 112.33,236.89 113.17,238.26 114.00,237.80 115.00,237.52 116.00,238.20 117.20,238.60 118.10,237.72 119.00,237.80 119.77,236.71 120.53,238.16 121.30,237.00 122.03,237.16 122.77,237.14 123.50,236.20 124.40,236.01 125.30,235.40 126.03,234.19 126.77,234.36 127.50,234.30 128.40,233.65 129.30,233.00 130.50,231.80 131.70,231.40 132.45,231.91 133.20,233.80 134.00,235.41 134.80,235.16 135.60,236.20 136.40,235.31 137.20,236.24 138.00,235.40 138.80,234.52 139.60,235.77 140.40,234.72 141.20,234.60 141.97,234.66 142.73,234.25 143.50,234.50 144.33,234.24 145.17,233.47 146.00,233.80 146.83,232.70 147.67,233.93 148.50,233.00 149.27,232.26 150.03,232.97 150.80,232.20 151.60,231.48 152.40,232.64 153.20,232.31 154.00,231.40 154.80,231.66 155.60,231.47 156.40,230.95 157.20,230.60 158.00,231.41 158.80,231.40 159.60,237.80 160.40,237.92 161.20,239.36 162.00,240.20 162.80,241.59 163.60,241.26 164.40,242.60 165.45,243.81 166.50,243.50 167.45,244.55 168.40,244.20 169.20,243.77 170.00,243.42 170.80,243.40 171.65,242.61 172.50,242.00 173.25,241.29 174.00,241.00 174.00,265.80 173.20,266.29 172.40,265.25 171.60,265.05 170.80,266.16 170.00,265.50 169.17,265.14 168.33,265.08 167.50,265.73 166.67,265.38 165.83,266.05 165.00,265.60 164.17,265.23 163.33,266.05 162.50,265.23 161.67,265.52 160.83,265.87 160.00,265.30 159.17,265.47 158.33,265.71 157.50,265.40 156.67,264.56 155.83,265.51 155.00,265.00 154.17,265.14 153.33,264.84 152.50,264.73 151.67,265.55 150.83,265.27 150.00,265.20 149.17,265.69 148.33,265.46 147.50,265.65 146.67,265.15 145.83,265.27 145.00,265.00 144.17,265.18 143.33,264.81 142.50,265.70 141.67,264.97 140.83,265.59 140.00,265.30 139.20,265.99 138.40,265.76 137.60,265.29 136.80,266.25 136.00,266.00 135.00,265.95 134.00,265.50 133.00,264.89 132.00,264.49 131.00,264.80 130.00,264.90 129.00,264.37 128.00,265.00 127.20,265.55 126.40,265.09 125.60,265.14 124.80,265.05 124.00,265.20 123.14,265.41 122.29,265.73 121.43,265.01 120.57,265.11 119.71,265.37 118.86,265.04 118.00,265.30 117.14,265.37 116.29,265.27 115.43,265.09 114.57,265.34 113.71,265.12 112.86,264.55 112.00,265.00 111.14,265.62 110.29,264.88 109.43,265.00 108.57,265.00 107.71,265.66 106.86,265.71 106.00,265.20 105.14,265.19 104.29,265.02 103.43,264.63 102.57,265.56 101.71,264.66 100.86,265.08 100.00,265.00 99.14,264.79 98.29,264.74 97.43,264.74 96.57,264.52 95.71,264.30 94.86,264.87 94.00,264.80" fill="#5b5b5b"/>
<rect x="114.8" y="269.4" width="1.6" height="1.0" fill="rgb(219,219,219)"/>
<rect x="165.2" y="268.0" width="1.9" height="1.0" fill="rgb(236,236,236)"/>
<rect x="128.8" y="270.2" width="2.0" height="0.7" fill="rgb(217,217,217)"/>
<rect x="134.7" y="269.6" width="1.8" height="0.8" fill="rgb(232,232,232)"/>
<rect x="160.1" y="268.2" width="1.9" height="1.0" fill="rgb(224,224,224)"/>
<rect x="162.4" y="268.5" width="2.2" height="1.0" fill="rgb(224,224,224)"/>
<rect x="131.7" y="268.3" width="1.5" height="0.6" fill="rgb(221,221,221)"/>
<rect x="85.4" y="267.3" width="2.4" height="0.8" fill="rgb(232,232,232)"/>
<rect x="120.7" y="269.5" width="1.0" height="0.5" fill="rgb(233,233,233)"/>
<rect x="99.8" y="270.1" width="1.5" height="1.0" fill="rgb(229,229,229)"/>
<rect x="167.2" y="266.7" width="1.6" height="0.7" fill="rgb(230,230,230)"/>
<rect x="165.2" y="270.2" width="1.6" height="0.6" fill="rgb(230,230,230)"/>
<rect x="122.3" y="265.5" width="1.0" height="0.9" fill="rgb(223,223,223)"/>
<rect x="87.0" y="266.3" width="0.8" height="0.6" fill="rgb(222,222,222)"/>
<rect x="149.4" y="266.6" width="1.0" height="0.9" fill="rgb(230,230,230)"/>
<rect x="95.9" y="268.0" width="1.9" height="0.9" fill="rgb(223,223,223)"/>
<rect x="163.2" y="265.4" width="1.5" height="0.8" fill="rgb(235,235,235)"/>
<rect x="99.2" y="266.4" width="1.7" height="0.6" fill="rgb(235,235,235)"/>
<rect x="104.2" y="268.1" width="2.2" height="0.6" fill="rgb(233,233,233)"/>
<rect x="150.9" y="269.5" width="1.3" height="0.7" fill="rgb(220,220,220)"/>
<rect x="167.1" y="266.4" width="2.2" height="0.6" fill="rgb(221,221,221)"/>
<rect x="106.3" y="269.1" width="1.4" height="0.7" fill="rgb(223,223,223)"/>
<rect x="168.8" y="268.1" width="1.0" height="0.7" fill="rgb(237,237,237)"/>
<rect x="146.0" y="265.4" width="1.7" height="0.7" fill="rgb(221,221,221)"/>
<rect x="158.1" y="267.2" width="1.6" height="0.9" fill="rgb(237,237,237)"/>
<rect x="129.7" y="268.9" width="2.1" height="0.7" fill="rgb(221,221,221)"/>
<rect x="87.2" y="269.3" width="1.6" height="0.8" fill="rgb(234,234,234)"/>
<rect x="98.0" y="266.3" width="1.1" height="0.6" fill="rgb(221,221,221)"/>
<rect x="110.2" y="268.8" width="0.9" height="1.0" fill="rgb(233,233,233)"/>
<rect x="126.1" y="269.3" width="1.4" height="0.7" fill="rgb(225,225,225)"/>
<rect x="116.6" y="266.4" width="0.8" height="0.9" fill="rgb(226,226,226)"/>
<rect x="160.1" y="266.2" width="1.4" height="0.7" fill="rgb(229,229,229)"/>
<rect x="167.0" y="268.4" width="1.6" height="0.5" fill="rgb(218,218,218)"/>
<rect x="164.5" y="269.5" width="2.2" height="1.0" fill="rgb(237,237,237)"/>
<rect x="168.6" y="268.3" width="1.6" height="1.0" fill="rgb(221,221,221)"/>
<rect x="156.6" y="266.6" width="2.0" height="0.9" fill="rgb(218,218,218)"/>
<rect x="157.5" y="267.4" width="2.2" height="0.8" fill="rgb(225,225,225)"/>
<rect x="153.3" y="269.3" width="1.1" height="0.6" fill="rgb(227,227,227)"/>
<rect x="156.0" y="266.9" width="0.8" height="0.7" fill="rgb(218,218,218)"/>
<rect x="141.8" y="268.5" width="1.2" height="1.0" fill="rgb(222,222,222)"/>
<rect x="111.6" y="266.4" width="1.7" height="0.8" fill="rgb(227,227,227)"/>
<rect x="119.7" y="270.5" width="1.1" height="0.6" fill="rgb(235,235,235)"/>
<rect x="120.2" y="268.3" width="1.8" height="0.9" fill="rgb(218,218,218)"/>
<rect x="107.8" y="267.4" width="2.0" height="0.8" fill="rgb(216,216,216)"/>
<rect x="86.0" y="266.6" width="2.2" height="0.8" fill="rgb(223,223,223)"/>
<rect x="130.2" y="270.3" width="2.2" height="0.5" fill="rgb(233,233,233)"/>
<rect x="124.5" y="268.7" width="1.8" height="0.9" fill="rgb(232,232,232)"/>
<rect x="89.0" y="270.1" width="1.4" height="1.0" fill="rgb(220,220,220)"/>
<rect x="161.2" y="268.1" width="0.9" height="1.0" fill="rgb(234,234,234)"/>
<rect x="122.4" y="268.0" width="1.3" height="0.8" fill="rgb(234,234,234)"/>
<rect x="128.0" y="266.7" width="1.9" height="0.9" fill="rgb(224,224,224)"/>
<rect x="87.4" y="269.3" width="0.9" height="0.6" fill="rgb(233,233,233)"/>
<rect x="152.2" y="267.3" width="2.0" height="0.5" fill="rgb(225,225,225)"/>
<rect x="173.0" y="270.2" width="2.1" height="0.6" fill="rgb(217,217,217)"/>
<rect x="149.0" y="266.6" width="1.2" height="0.8" fill="rgb(239,239,239)"/>
<rect x="168.4" y="269.1" width="1.0" height="1.0" fill="rgb(229,229,229)"/>
<rect x="106.8" y="269.0" width="1.8" height="0.7" fill="rgb(216,216,216)"/>
<rect x="103.1" y="265.6" width="1.0" height="0.7" fill="rgb(231,231,231)"/>
<rect x="97.4" y="267.5" width="1.2" height="0.8" fill="rgb(234,234,234)"/>
<rect x="122.3" y="269.3" width="2.1" height="0.6" fill="rgb(231,231,231)"/>
<rect x="110.8" y="266.0" width="1.0" height="0.9" fill="rgb(230,230,230)"/>
<rect x="154.8" y="268.5" width="1.2" height="0.8" fill="rgb(226,226,226)"/>
<rect x="149.5" y="268.9" width="1.8" height="0.9" fill="rgb(221,221,221)"/>
<rect x="101.9" y="266.6" width="2.3" height="0.9" fill="rgb(235,235,235)"/>
<rect x="88.5" y="265.6" width="1.2" height="0.5" fill="rgb(223,223,223)"/>
<rect x="88.4" y="266.5" width="0.9" height="0.5" fill="rgb(223,223,223)"/>
<rect x="145.2" y="268.2" width="2.4" height="0.7" fill="rgb(235,235,235)"/>
<rect x="116.5" y="267.1" width="2.0" height="0.9" fill="rgb(230,230,230)"/>
<rect x="91.6" y="265.9" width="2.1" height="0.9" fill="rgb(240,240,240)"/>
<rect x="153.4" y="267.6" width="1.2" height="0.9" fill="rgb(238,238,238)"/>
<rect x="117.8" y="268.7" width="1.3" height="0.8" fill="rgb(234,234,234)"/>
<rect x="151.4" y="270.1" width="1.8" height="0.8" fill="rgb(228,228,228)"/>
<rect x="126.1" y="267.0" width="0.9" height="0.8" fill="rgb(232,232,232)"/>
<rect x="128.2" y="268.9" width="2.1" height="0.5" fill="rgb(224,224,224)"/>
<rect x="112.6" y="270.0" width="0.9" height="0.7" fill="rgb(234,234,234)"/>
<rect x="149.5" y="268.9" width="2.2" height="0.6" fill="rgb(224,224,224)"/>
<rect x="143.5" y="267.0" width="1.3" height="0.7" fill="rgb(218,218,218)"/>
<rect x="137.9" y="270.0" width="2.3" height="0.7" fill="rgb(236,236,236)"/>
<rect x="156.5" y="266.9" width="1.2" height="1.0" fill="rgb(225,225,225)"/>
<rect x="150.0" y="268.0" width="1.4" height="0.7" fill="rgb(217,217,217)"/>
<rect x="117.3" y="267.4" width="2.1" height="0.9" fill="rgb(227,227,227)"/>
<rect x="117.8" y="267.3" width="2.1" height="0.8" fill="rgb(219,219,219)"/>
<rect x="100.7" y="269.2" width="2.1" height="0.6" fill="rgb(224,224,224)"/>
<rect x="90.1" y="266.1" width="2.3" height="0.8" fill="rgb(224,224,224)"/>
<rect x="156.6" y="265.6" width="1.3" height="0.8" fill="rgb(232,232,232)"/>
<rect x="114.8" y="266.7" width="2.2" height="0.5" fill="rgb(218,218,218)"/>
<rect x="141.4" y="266.0" width="2.1" height="0.7" fill="rgb(238,238,238)"/>
<rect x="148.4" y="267.8" width="1.3" height="0.7" fill="rgb(231,231,231)"/>
<rect x="116.2" y="269.5" width="1.9" height="0.7" fill="rgb(225,225,225)"/>
<rect x="132.8" y="269.0" width="1.8" height="0.5" fill="rgb(237,237,237)"/>
<rect x="152.4" y="270.4" width="2.2" height="0.9" fill="rgb(226,226,226)"/>
<rect x="159.2" y="269.9" width="1.8" height="0.8" fill="rgb(232,232,232)"/>
<rect x="148.2" y="269.5" width="2.3" height="1.0" fill="rgb(228,228,228)"/>
<rect x="106.9" y="266.1" width="1.4" height="0.6" fill="rgb(235,235,235)"/>
<rect x="103.2" y="267.5" width="1.2" height="0.9" fill="rgb(224,224,224)"/>
<rect x="127.0" y="269.1" width="1.8" height="0.9" fill="rgb(224,224,224)"/>
<rect x="101.0" y="265.6" width="0.8" height="0.7" fill="rgb(229,229,229)"/>
<rect x="156.2" y="266.9" width="1.1" height="0.6" fill="rgb(221,221,221)"/>
<rect x="106.0" y="269.0" width="1.6" height="0.7" fill="rgb(234,234,234)"/>
<rect x="164.6" y="267.4" width="2.3" height="0.8" fill="rgb(239,239,239)"/>
<rect x="168.8" y="268.2" width="1.6" height="0.7" fill="rgb(223,223,223)"/>
<rect x="170.1" y="268.7" width="2.3" height="0.7" fill="rgb(239,239,239)"/>
<rect x="104.7" y="265.6" width="2.1" height="0.7" fill="rgb(219,219,219)"/>
<rect x="132.0" y="268.0" width="2.1" height="0.5" fill="rgb(223,223,223)"/>
<rect x="167.3" y="269.9" width="2.2" height="0.7" fill="rgb(230,230,230)"/>
<rect x="106.9" y="267.5" width="1.5" height="0.9" fill="rgb(220,220,220)"/>
<rect x="97.9" y="270.0" width="1.6" height="0.8" fill="rgb(240,240,240)"/>
<rect x="173.4" y="266.7" width="0.9" height="0.8" fill="rgb(232,232,232)"/>
<rect x="100.9" y="266.4" width="2.1" height="0.5" fill="rgb(219,219,219)"/>
<rect x="109.0" y="269.0" width="2.2" height="0.8" fill="rgb(218,218,218)"/>
<rect x="92.4" y="269.2" width="2.2" height="0.7" fill="rgb(232,232,232)"/>
<rect x="155.2" y="267.5" width="0.9" height="0.9" fill="rgb(236,236,236)"/>
<rect x="103.5" y="268.1" width="1.6" height="1.0" fill="rgb(231,231,231)"/>
<rect x="170.8" y="266.9" width="0.9" height="0.7" fill="rgb(227,227,227)"/>
<rect x="126.6" y="269.0" width="0.9" height="0.6" fill="rgb(226,226,226)"/>
<rect x="144.4" y="268.8" width="2.3" height="0.9" fill="rgb(238,238,238)"/>
<rect x="143.2" y="265.4" width="1.9" height="0.7" fill="rgb(227,227,227)"/>
<rect x="111.1" y="265.9" width="0.8" height="1.0" fill="rgb(239,239,239)"/>
<rect x="156.2" y="266.4" width="1.0" height="0.8" fill="rgb(234,234,234)"/>
<rect x="168.4" y="269.2" width="2.0" height="0.8" fill="rgb(225,225,225)"/>
<rect x="92.7" y="266.3" width="2.0" height="0.7" fill="rgb(227,227,227)"/>
<rect x="169.1" y="268.2" width="1.8" height="0.7" fill="rgb(238,238,238)"/>
<rect x="119.0" y="265.8" width="1.0" height="0.8" fill="rgb(234,234,234)"/>
<rect x="148.0" y="266.2" width="0.9" height="0.7" fill="rgb(227,227,227)"/>
<rect x="147.7" y="265.8" width="1.1" height="0.6" fill="rgb(216,216,216)"/>
<rect x="121.2" y="265.7" width="2.3" height="0.6" fill="rgb(228,228,228)"/>
<rect x="103.3" y="266.1" width="1.4" height="0.7" fill="rgb(237,237,237)"/>
<rect x="121.7" y="265.4" width="1.8" height="0.7" fill="rgb(227,227,227)"/>
<rect x="155.2" y="266.6" width="1.6" height="0.6" fill="rgb(234,234,234)"/>
<rect x="101.8" y="266.9" width="1.0" height="0.7" fill="rgb(229,229,229)"/>
<rect x="130.3" y="269.4" width="1.8" height="0.6" fill="rgb(218,218,218)"/>
<rect x="153.2" y="270.0" width="1.2" height="0.8" fill="rgb(232,232,232)"/>
<rect x="130.7" y="268.3" width="2.4" height="0.8" fill="rgb(221,221,221)"/>
<rect x="148.7" y="269.6" width="1.7" height="0.5" fill="rgb(221,221,221)"/>
<rect x="143.7" y="269.3" width="1.2" height="0.8" fill="rgb(219,219,219)"/>
<rect x="147.0" y="267.0" width="1.2" height="0.9" fill="rgb(226,226,226)"/>
<rect x="125.3" y="269.1" width="2.2" height="0.8" fill="rgb(222,222,222)"/>
<rect x="134.9" y="268.2" width="1.1" height="0.9" fill="rgb(223,223,223)"/>
<rect x="164.8" y="267.0" width="1.0" height="0.9" fill="rgb(219,219,219)"/>
<rect x="110.7" y="270.0" width="2.0" height="0.7" fill="rgb(222,222,222)"/>
<rect x="99.8" y="268.4" width="0.9" height="0.5" fill="rgb(240,240,240)"/>
<rect x="101.0" y="270.4" width="1.0" height="0.9" fill="rgb(236,236,236)"/>
<rect x="160.4" y="270.0" width="1.7" height="0.9" fill="rgb(234,234,234)"/>
<rect x="86.5" y="266.3" width="0.9" height="0.8" fill="rgb(229,229,229)"/>
<rect x="95.5" y="267.4" width="1.6" height="0.6" fill="rgb(225,225,225)"/>
<rect x="135.6" y="267.0" width="2.1" height="0.9" fill="rgb(235,235,235)"/>
<rect x="155.1" y="267.4" width="1.8" height="0.7" fill="rgb(230,230,230)"/>
<rect x="121.6" y="268.5" width="1.7" height="0.7" fill="rgb(237,237,237)"/>
<rect x="110.1" y="269.9" width="2.1" height="0.9" fill="rgb(229,229,229)"/>
<rect x="121.4" y="267.6" width="1.0" height="1.0" fill="rgb(233,233,233)"/>
<rect x="114.4" y="268.0" width="2.2" height="0.7" fill="rgb(228,228,228)"/>
<rect x="89.9" y="269.1" width="2.0" height="0.8" fill="rgb(228,228,228)"/>
<rect x="151.9" y="266.9" width="2.2" height="0.6" fill="rgb(233,233,233)"/>
<rect x="160.1" y="266.6" width="2.4" height="0.7" fill="rgb(227,227,227)"/>
<rect x="94.4" y="270.0" width="1.3" height="0.7" fill="rgb(232,232,232)"/>
<rect x="106.0" y="265.7" width="2.3" height="0.8" fill="rgb(238,238,238)"/>
<rect x="162.1" y="267.5" width="1.1" height="0.8" fill="rgb(240,240,240)"/>
<rect x="122.5" y="265.9" width="1.0" height="0.9" fill="rgb(217,217,217)"/>
<rect x="96.0" y="268.1" width="0.8" height="0.6" fill="rgb(229,229,229)"/>
<rect x="111.6" y="267.0" width="1.5" height="0.7" fill="rgb(217,217,217)"/>
<line x1="84" y1="272.4" x2="176" y2="272.4" stroke="#dcdcdc" stroke-width="0.6" />
<line x1="86.8" y1="227.3" x2="91" y2="227.3" stroke="#cccccc" stroke-width="1.0" />
<line x1="86.8" y1="249" x2="91" y2="249" stroke="#cccccc" stroke-width="1.0" />
<line x1="86.8" y1="270" x2="91" y2="270" stroke="#cccccc" stroke-width="1.0" />
<text x="81" y="227.3" font-size="6.5" text-anchor="end" dominant-baseline="central" fill="#2a2a2a" stroke="#2a2a2a" stroke-width="0.12" >1.417</text>
<text x="81" y="249" font-size="6.5" text-anchor="end" dominant-baseline="central" fill="#2a2a2a" stroke="#2a2a2a" stroke-width="0.12" >1.144</text>
<text x="81" y="270" font-size="6.5" text-anchor="end" dominant-baseline="central" fill="#2a2a2a" stroke="#2a2a2a" stroke-width="0.12" >0.039</text>
<text x="175.6" y="231.7" font-size="7.5" text-anchor="end" dominant-baseline="central" fill="#c23c4a" stroke="#c23c4a" stroke-width="0.12" textLength="12" lengthAdjust="spacingAndGlyphs">cKO</text>
<text x="0" y="0" transform="translate(53.3,226.4) rotate(-90)" font-size="7.8" text-anchor="middle" dominant-baseline="central" fill="#2a2a2a" stroke="#2a2a2a" stroke-width="0.18" textLength="60.4" lengthAdjust="spacingAndGlyphs">Blood flow (ml/min)</text>
<text x="91" y="282.1" font-size="8.6" text-anchor="start" dominant-baseline="central" fill="#2a2a2a" stroke="#2a2a2a" stroke-width="0.2" textLength="14.7" lengthAdjust="spacingAndGlyphs">Time</text>
<line x1="108.6" y1="282.3" x2="168" y2="282.3" stroke="#222" stroke-width="0.8" />
<polygon points="171.5,282.3 165.5,279.8 166.8,282.3 165.5,284.8" fill="#222"/>
<line x1="226.3" y1="193.3" x2="226.3" y2="274.84999999999997" stroke="#1e1e1e" stroke-width="1.0" /><line x1="225.85000000000002" y1="274.4" x2="275.5" y2="274.4" stroke="#1e1e1e" stroke-width="1.0" /><line x1="223.5" y1="274.4" x2="226.3" y2="274.4" stroke="#1e1e1e" stroke-width="1.0" /><text x="220.6" y="274.4" font-size="6.5" text-anchor="end" dominant-baseline="central" fill="#2a2a2a" stroke="#2a2a2a" stroke-width="0.12" >0</text><line x1="223.5" y1="254.59999999999997" x2="226.3" y2="254.59999999999997" stroke="#1e1e1e" stroke-width="1.0" /><text x="220.6" y="254.59999999999997" font-size="6.5" text-anchor="end" dominant-baseline="central" fill="#2a2a2a" stroke="#2a2a2a" stroke-width="0.12" >500</text><line x1="223.5" y1="234.79999999999998" x2="226.3" y2="234.79999999999998" stroke="#1e1e1e" stroke-width="1.0" /><text x="220.6" y="234.79999999999998" font-size="6.5" text-anchor="end" dominant-baseline="central" fill="#2a2a2a" stroke="#2a2a2a" stroke-width="0.12" >1000</text><line x1="223.5" y1="214.99999999999997" x2="226.3" y2="214.99999999999997" stroke="#1e1e1e" stroke-width="1.0" /><text x="220.6" y="214.99999999999997" font-size="6.5" text-anchor="end" dominant-baseline="central" fill="#2a2a2a" stroke="#2a2a2a" stroke-width="0.12" >1500</text><line x1="223.5" y1="195.2" x2="226.3" y2="195.2" stroke="#1e1e1e" stroke-width="1.0" /><text x="220.6" y="195.2" font-size="6.5" text-anchor="end" dominant-baseline="central" fill="#2a2a2a" stroke="#2a2a2a" stroke-width="0.12" >2000</text><text x="0" y="0" transform="translate(198.2,233.75) rotate(-90)" font-size="7.8" text-anchor="middle" dominant-baseline="central" fill="#222" stroke="#222" stroke-width="0.18" textLength="61.5" lengthAdjust="spacingAndGlyphs">Time to occlusion (s)</text>
<rect x="233.5" y="263.3" width="15.1" height="11.1" fill="#86a0c8"/>
<rect x="256.2" y="202.7" width="15.2" height="71.7" fill="#e98e95"/>
<circle cx="241.10" cy="256.20" r="1.2" fill="#fff" fill-opacity="0.75" stroke="#3a64a0" stroke-width="0.6"/>
<circle cx="244.20" cy="259.30" r="1.2" fill="#fff" fill-opacity="0.75" stroke="#3a64a0" stroke-width="0.6"/>
<circle cx="238.40" cy="261.10" r="1.2" fill="#fff" fill-opacity="0.75" stroke="#3a64a0" stroke-width="0.6"/>
<circle cx="241.10" cy="261.30" r="1.2" fill="#fff" fill-opacity="0.75" stroke="#3a64a0" stroke-width="0.6"/>
<circle cx="244.20" cy="263.30" r="1.2" fill="#fff" fill-opacity="0.75" stroke="#3a64a0" stroke-width="0.6"/>
<circle cx="234.40" cy="263.70" r="1.2" fill="#fff" fill-opacity="0.75" stroke="#3a64a0" stroke-width="0.6"/>
<circle cx="236.60" cy="263.30" r="1.2" fill="#fff" fill-opacity="0.75" stroke="#3a64a0" stroke-width="0.6"/>
<circle cx="241.10" cy="264.20" r="1.2" fill="#fff" fill-opacity="0.75" stroke="#3a64a0" stroke-width="0.6"/>
<circle cx="247.30" cy="265.50" r="1.2" fill="#fff" fill-opacity="0.75" stroke="#3a64a0" stroke-width="0.6"/>
<circle cx="238.50" cy="266.50" r="1.2" fill="#fff" fill-opacity="0.75" stroke="#3a64a0" stroke-width="0.6"/>
<circle cx="243.50" cy="267.00" r="1.2" fill="#fff" fill-opacity="0.75" stroke="#3a64a0" stroke-width="0.6"/>
<circle cx="257.60" cy="203.60" r="1.2" fill="#fff" fill-opacity="0.5" stroke="#c8343f" stroke-width="0.6"/>
<circle cx="260.50" cy="203.60" r="1.2" fill="#fff" fill-opacity="0.5" stroke="#c8343f" stroke-width="0.6"/>
<circle cx="263.50" cy="203.60" r="1.2" fill="#fff" fill-opacity="0.5" stroke="#c8343f" stroke-width="0.6"/>
<circle cx="266.50" cy="203.60" r="1.2" fill="#fff" fill-opacity="0.5" stroke="#c8343f" stroke-width="0.6"/>
<circle cx="269.60" cy="203.60" r="1.2" fill="#fff" fill-opacity="0.5" stroke="#c8343f" stroke-width="0.6"/>
<circle cx="263.00" cy="233.70" r="1.2" fill="#fff" fill-opacity="0.5" stroke="#c8343f" stroke-width="0.6"/>
<circle cx="263.00" cy="245.90" r="1.2" fill="#fff" fill-opacity="0.5" stroke="#c8343f" stroke-width="0.6"/>
<line x1="241" y1="274.4" x2="241" y2="276.8" stroke="#1e1e1e" stroke-width="1.0" />
<line x1="263.7" y1="274.4" x2="263.7" y2="276.8" stroke="#1e1e1e" stroke-width="1.0" />
<polyline points="239.5,197 239.5,194.4 264.3,194.4 264.3,197" fill="none" stroke="#2a2a2a" stroke-width="0.8"/>
<text x="252.6" y="192.6" font-size="7.5" text-anchor="middle" dominant-baseline="central" fill="#2a2a2a" stroke="#2a2a2a" stroke-width="0.12" >***</text>
<text x="241" y="283.5" font-size="6.5" text-anchor="middle" dominant-baseline="central" fill="#2a2a2a" stroke="#2a2a2a" stroke-width="0.12" >WT</text>
<text x="263.7" y="283.5" font-size="6.5" text-anchor="middle" dominant-baseline="central" fill="#2a2a2a" stroke="#2a2a2a" stroke-width="0.12" >cKO</text>
<line x1="326.7" y1="193.0" x2="326.7" y2="274.34999999999997" stroke="#1e1e1e" stroke-width="1.0" /><line x1="326.25" y1="273.9" x2="379" y2="273.9" stroke="#1e1e1e" stroke-width="1.0" /><line x1="323.9" y1="273.9" x2="326.7" y2="273.9" stroke="#1e1e1e" stroke-width="1.0" /><text x="321" y="273.9" font-size="6.5" text-anchor="end" dominant-baseline="central" fill="#2a2a2a" stroke="#2a2a2a" stroke-width="0.12" >0</text><line x1="323.9" y1="258.37" x2="326.7" y2="258.37" stroke="#1e1e1e" stroke-width="1.0" /><text x="321" y="258.37" font-size="6.5" text-anchor="end" dominant-baseline="central" fill="#2a2a2a" stroke="#2a2a2a" stroke-width="0.12" >200</text><line x1="323.9" y1="242.83999999999997" x2="326.7" y2="242.83999999999997" stroke="#1e1e1e" stroke-width="1.0" /><text x="321" y="242.83999999999997" font-size="6.5" text-anchor="end" dominant-baseline="central" fill="#2a2a2a" stroke="#2a2a2a" stroke-width="0.12" >400</text><line x1="323.9" y1="227.30999999999997" x2="326.7" y2="227.30999999999997" stroke="#1e1e1e" stroke-width="1.0" /><text x="321" y="227.30999999999997" font-size="6.5" text-anchor="end" dominant-baseline="central" fill="#2a2a2a" stroke="#2a2a2a" stroke-width="0.12" >600</text><line x1="323.9" y1="211.77999999999997" x2="326.7" y2="211.77999999999997" stroke="#1e1e1e" stroke-width="1.0" /><text x="321" y="211.77999999999997" font-size="6.5" text-anchor="end" dominant-baseline="central" fill="#2a2a2a" stroke="#2a2a2a" stroke-width="0.12" >800</text><line x1="323.9" y1="196.25" x2="326.7" y2="196.25" stroke="#1e1e1e" stroke-width="1.0" /><text x="321" y="196.25" font-size="6.5" text-anchor="end" dominant-baseline="central" fill="#2a2a2a" stroke="#2a2a2a" stroke-width="0.12" >1000</text><text x="0" y="0" transform="translate(298.6,234) rotate(-90)" font-size="7.8" text-anchor="middle" dominant-baseline="central" fill="#222" stroke="#222" stroke-width="0.18" textLength="52" lengthAdjust="spacingAndGlyphs">Bleeding time (s)</text>
<rect x="334" y="265" width="15" height="8.9" fill="#86a0c8"/>
<rect x="357" y="260.6" width="14.6" height="13.3" fill="#e98e95"/>
<line x1="364.3" y1="260.6" x2="364.3" y2="254" stroke="#c8505a" stroke-width="0.9" />
<line x1="360" y1="254" x2="367.6" y2="254" stroke="#c8505a" stroke-width="0.9" />
<circle cx="341.50" cy="259.30" r="1.2" fill="#fff" fill-opacity="0.75" stroke="#3a64a0" stroke-width="0.6"/>
<circle cx="335.00" cy="265.50" r="1.2" fill="#fff" fill-opacity="0.75" stroke="#3a64a0" stroke-width="0.6"/>
<circle cx="338.00" cy="265.20" r="1.2" fill="#fff" fill-opacity="0.75" stroke="#3a64a0" stroke-width="0.6"/>
<circle cx="341.50" cy="265.80" r="1.2" fill="#fff" fill-opacity="0.75" stroke="#3a64a0" stroke-width="0.6"/>
<circle cx="344.50" cy="265.50" r="1.2" fill="#fff" fill-opacity="0.75" stroke="#3a64a0" stroke-width="0.6"/>
<circle cx="347.50" cy="266.30" r="1.2" fill="#fff" fill-opacity="0.75" stroke="#3a64a0" stroke-width="0.6"/>
<circle cx="335.50" cy="268.30" r="1.2" fill="#fff" fill-opacity="0.75" stroke="#3a64a0" stroke-width="0.6"/>
<circle cx="339.00" cy="268.50" r="1.2" fill="#fff" fill-opacity="0.75" stroke="#3a64a0" stroke-width="0.6"/>
<circle cx="342.50" cy="268.30" r="1.2" fill="#fff" fill-opacity="0.75" stroke="#3a64a0" stroke-width="0.6"/>
<circle cx="346.00" cy="268.60" r="1.2" fill="#fff" fill-opacity="0.75" stroke="#3a64a0" stroke-width="0.6"/>
<circle cx="363.90" cy="203.70" r="1.2" fill="#fff" fill-opacity="0.6" stroke="#c86a72" stroke-width="0.6"/>
<circle cx="364.00" cy="261.50" r="1.2" fill="#fff" fill-opacity="0.85" stroke="#c8343f" stroke-width="0.6"/>
<circle cx="362.70" cy="265.00" r="1.2" fill="#fff" fill-opacity="0.85" stroke="#c8343f" stroke-width="0.6"/>
<circle cx="365.50" cy="264.60" r="1.2" fill="#fff" fill-opacity="0.85" stroke="#c8343f" stroke-width="0.6"/>
<circle cx="358.30" cy="268.10" r="1.2" fill="#fff" fill-opacity="0.85" stroke="#c8343f" stroke-width="0.6"/>
<circle cx="361.00" cy="268.10" r="1.2" fill="#fff" fill-opacity="0.85" stroke="#c8343f" stroke-width="0.6"/>
<circle cx="363.60" cy="268.60" r="1.2" fill="#fff" fill-opacity="0.85" stroke="#c8343f" stroke-width="0.6"/>
<circle cx="367.20" cy="268.10" r="1.2" fill="#fff" fill-opacity="0.85" stroke="#c8343f" stroke-width="0.6"/>
<circle cx="370.30" cy="267.70" r="1.2" fill="#fff" fill-opacity="0.85" stroke="#c8343f" stroke-width="0.6"/>
<line x1="341.5" y1="273.9" x2="341.5" y2="276.3" stroke="#1e1e1e" stroke-width="1.0" />
<line x1="364.3" y1="273.9" x2="364.3" y2="276.3" stroke="#1e1e1e" stroke-width="1.0" />
<text x="341.5" y="283.5" font-size="6.5" text-anchor="middle" dominant-baseline="central" fill="#2a2a2a" stroke="#2a2a2a" stroke-width="0.12" >WT</text>
<text x="364.5" y="283.5" font-size="6.5" text-anchor="middle" dominant-baseline="central" fill="#2a2a2a" stroke="#2a2a2a" stroke-width="0.12" >cKO</text>
<line x1="418.6" y1="192.7" x2="418.6" y2="274.15" stroke="#1e1e1e" stroke-width="1.0" /><line x1="418.15000000000003" y1="273.7" x2="465" y2="273.7" stroke="#1e1e1e" stroke-width="1.0" /><line x1="415.8" y1="273.7" x2="418.6" y2="273.7" stroke="#1e1e1e" stroke-width="1.0" /><text x="413.3" y="273.7" font-size="6.5" text-anchor="end" dominant-baseline="central" fill="#2a2a2a" stroke="#2a2a2a" stroke-width="0.12" >0</text><line x1="415.8" y1="247.85" x2="418.6" y2="247.85" stroke="#1e1e1e" stroke-width="1.0" /><text x="413.3" y="247.85" font-size="6.5" text-anchor="end" dominant-baseline="central" fill="#2a2a2a" stroke="#2a2a2a" stroke-width="0.12" >1</text><line x1="415.8" y1="222" x2="418.6" y2="222" stroke="#1e1e1e" stroke-width="1.0" /><text x="413.3" y="222" font-size="6.5" text-anchor="end" dominant-baseline="central" fill="#2a2a2a" stroke="#2a2a2a" stroke-width="0.12" >2</text><line x1="415.8" y1="196.15" x2="418.6" y2="196.15" stroke="#1e1e1e" stroke-width="1.0" /><text x="413.3" y="196.15" font-size="6.5" text-anchor="end" dominant-baseline="central" fill="#2a2a2a" stroke="#2a2a2a" stroke-width="0.12" >3</text><text x="0" y="0" transform="translate(398.9,234) rotate(-90)" font-size="7.8" text-anchor="middle" dominant-baseline="central" fill="#222" stroke="#222" stroke-width="0.18" textLength="53" lengthAdjust="spacingAndGlyphs">Hb content (A<tspan font-size="5.5" dy="1.6">550</tspan><tspan dy="-1.6">)</tspan></text>
<rect x="426.7" y="259.6" width="13.7" height="14.1" fill="#86a0c8"/>
<rect x="448.7" y="255.9" width="13.7" height="17.8" fill="#e98e95"/>
<line x1="433.5" y1="259.6" x2="433.5" y2="255.7" stroke="#2f5a94" stroke-width="0.9" />
<line x1="430" y1="255.7" x2="437.3" y2="255.7" stroke="#2f5a94" stroke-width="0.9" />
<line x1="455.8" y1="255.9" x2="455.8" y2="249.2" stroke="#c8343f" stroke-width="0.9" />
<line x1="452.6" y1="249.2" x2="459.3" y2="249.2" stroke="#c8343f" stroke-width="0.9" />
<circle cx="433.20" cy="231.10" r="1.2" fill="#fff" fill-opacity="0.85" stroke="#3a64a0" stroke-width="0.6"/>
<circle cx="433.30" cy="252.00" r="1.2" fill="#fff" fill-opacity="0.85" stroke="#3a64a0" stroke-width="0.6"/>
<circle cx="433.30" cy="257.10" r="1.2" fill="#fff" fill-opacity="0.85" stroke="#3a64a0" stroke-width="0.6"/>
<circle cx="428.70" cy="262.60" r="1.2" fill="#fff" fill-opacity="0.85" stroke="#3a64a0" stroke-width="0.6"/>
<circle cx="433.60" cy="263.30" r="1.2" fill="#fff" fill-opacity="0.85" stroke="#3a64a0" stroke-width="0.6"/>
<circle cx="437.90" cy="262.60" r="1.2" fill="#fff" fill-opacity="0.85" stroke="#3a64a0" stroke-width="0.6"/>
<circle cx="433.60" cy="266.30" r="1.2" fill="#fff" fill-opacity="0.85" stroke="#3a64a0" stroke-width="0.6"/>
<circle cx="428.70" cy="268.40" r="1.2" fill="#fff" fill-opacity="0.85" stroke="#3a64a0" stroke-width="0.6"/>
<circle cx="437.90" cy="266.90" r="1.2" fill="#fff" fill-opacity="0.85" stroke="#3a64a0" stroke-width="0.6"/>
<circle cx="433.60" cy="259.80" r="1.2" fill="#fff" fill-opacity="0.85" stroke="#3a64a0" stroke-width="0.6"/>
<circle cx="455.60" cy="205.30" r="1.2" fill="#fff" fill-opacity="0.85" stroke="#c8343f" stroke-width="0.6"/>
<circle cx="455.70" cy="248.60" r="1.2" fill="#fff" fill-opacity="0.85" stroke="#c8343f" stroke-width="0.6"/>
<circle cx="455.70" cy="252.20" r="1.2" fill="#fff" fill-opacity="0.85" stroke="#c8343f" stroke-width="0.6"/>
<circle cx="452.00" cy="259.00" r="1.2" fill="#fff" fill-opacity="0.85" stroke="#c8343f" stroke-width="0.6"/>
<circle cx="455.30" cy="259.60" r="1.2" fill="#fff" fill-opacity="0.85" stroke="#c8343f" stroke-width="0.6"/>
<circle cx="459.30" cy="259.30" r="1.2" fill="#fff" fill-opacity="0.85" stroke="#c8343f" stroke-width="0.6"/>
<circle cx="460.90" cy="265.00" r="1.2" fill="#fff" fill-opacity="0.85" stroke="#c8343f" stroke-width="0.6"/>
<circle cx="451.40" cy="268.20" r="1.2" fill="#fff" fill-opacity="0.85" stroke="#c8343f" stroke-width="0.6"/>
<circle cx="455.30" cy="267.90" r="1.2" fill="#fff" fill-opacity="0.85" stroke="#c8343f" stroke-width="0.6"/>
<circle cx="460.90" cy="268.40" r="1.2" fill="#fff" fill-opacity="0.85" stroke="#c8343f" stroke-width="0.6"/>
<line x1="433.5" y1="273.7" x2="433.5" y2="276.1" stroke="#1e1e1e" stroke-width="1.0" />
<line x1="455.8" y1="273.7" x2="455.8" y2="276.1" stroke="#1e1e1e" stroke-width="1.0" />
<text x="433.4" y="282" font-size="6.5" text-anchor="middle" dominant-baseline="central" fill="#2a2a2a" stroke="#2a2a2a" stroke-width="0.12" >WT</text>
<text x="456.2" y="282" font-size="6.5" text-anchor="middle" dominant-baseline="central" fill="#2a2a2a" stroke="#2a2a2a" stroke-width="0.12" >cKO</text>
<rect x="0.5" y="0.5" width="519" height="293" fill="none" stroke="#636363" stroke-width="1"/>
</svg>
</body></html>
